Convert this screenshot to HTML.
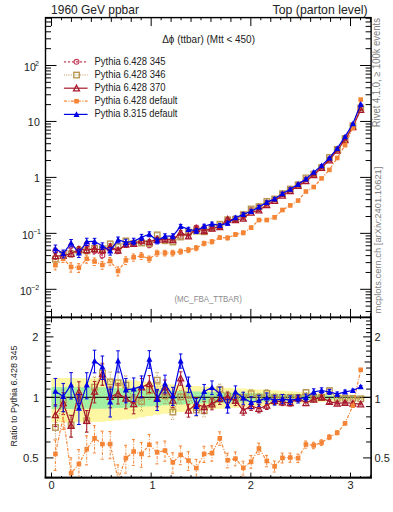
<!DOCTYPE html><html><head><meta charset="utf-8"><style>html,body{margin:0;padding:0;background:#fff;}svg{display:block}text{font-family:"Liberation Sans",sans-serif;fill:#222}</style></head><body>
<svg width="393" height="512" viewBox="0 0 393 512">
<rect width="393" height="512" fill="#fff"/>
<path d="M51.50,377.92 59.33,377.92 L59.33,377.99 67.16,377.99 L67.16,378.06 74.98,378.06 L74.98,378.13 82.81,378.13 L82.81,378.20 90.64,378.20 L90.64,378.27 98.47,378.27 L98.47,378.34 106.30,378.34 L106.30,378.83 114.12,378.83 L114.12,379.33 121.95,379.33 L121.95,379.83 129.78,379.83 L129.78,380.33 137.61,380.33 L137.61,381.16 145.44,381.16 L145.44,382.00 153.26,382.00 L153.26,382.85 161.09,382.85 L161.09,383.71 168.92,383.71 L168.92,384.39 176.75,384.39 L176.75,384.90 184.58,384.90 L184.58,385.40 192.41,385.40 L192.41,385.91 200.23,385.91 L200.23,386.42 208.06,386.42 L208.06,386.94 215.89,386.94 L215.89,387.40 223.72,387.40 L223.72,387.80 231.55,387.80 L231.55,388.21 239.37,388.21 L239.37,388.61 247.20,388.61 L247.20,389.02 255.03,389.02 L255.03,389.44 262.86,389.44 L262.86,389.85 270.69,389.85 L270.69,390.26 278.51,390.26 L278.51,390.68 286.34,390.68 L286.34,391.17 294.17,391.17 L294.17,391.66 302.00,391.66 L302.00,392.15 309.83,392.15 L309.83,392.64 317.65,392.64 L317.65,393.14 325.48,393.14 L325.48,393.64 333.31,393.64 L333.31,394.14 341.14,394.14 L341.14,394.65 348.97,394.65 L348.97,395.16 356.79,395.16 L356.79,395.67 364.62,395.67 L364.62,399.16 356.79,399.16 L356.79,399.70 348.97,399.70 L348.97,400.24 341.14,400.24 L341.14,400.78 333.31,400.78 L333.31,401.33 325.48,401.33 L325.48,401.88 317.65,401.88 L317.65,402.43 309.83,402.43 L309.83,402.99 302.00,402.99 L302.00,403.55 294.17,403.55 L294.17,404.11 286.34,404.11 L286.34,404.68 278.51,404.68 L278.51,405.17 270.69,405.17 L270.69,405.67 262.86,405.67 L262.86,406.16 255.03,406.16 L255.03,406.67 247.20,406.67 L247.20,407.17 239.37,407.17 L239.37,407.68 231.55,407.68 L231.55,408.19 223.72,408.19 L223.72,408.70 215.89,408.70 L215.89,409.29 208.06,409.29 L208.06,409.96 200.23,409.96 L200.23,410.63 192.41,410.63 L192.41,411.31 184.58,411.31 L184.58,412.00 176.75,412.00 L176.75,412.69 168.92,412.69 L168.92,413.64 161.09,413.64 L161.09,414.87 153.26,414.87 L153.26,416.11 145.44,416.11 L145.44,417.37 137.61,417.37 L137.61,418.64 129.78,418.64 L129.78,419.43 121.95,419.43 L121.95,420.22 114.12,420.22 L114.12,421.01 106.30,421.01 L106.30,421.82 98.47,421.82 L98.47,421.93 90.64,421.93 L90.64,422.05 82.81,422.05 L82.81,422.16 74.98,422.16 L74.98,422.28 67.16,422.28 L67.16,422.40 59.33,422.40 L59.33,422.51 51.50,422.51 Z" fill="#fdf7a3"/>
<path d="M51.50,387.12 59.33,387.12 L59.33,387.16 67.16,387.16 L67.16,387.20 74.98,387.20 L74.98,387.23 82.81,387.23 L82.81,387.27 90.64,387.27 L90.64,387.31 98.47,387.31 L98.47,387.35 106.30,387.35 L106.30,387.62 114.12,387.62 L114.12,387.90 121.95,387.90 L121.95,388.17 129.78,388.17 L129.78,388.45 137.61,388.45 L137.61,388.90 145.44,388.90 L145.44,389.36 153.26,389.36 L153.26,389.82 161.09,389.82 L161.09,390.29 168.92,390.29 L168.92,390.65 176.75,390.65 L176.75,390.92 184.58,390.92 L184.58,391.20 192.41,391.20 L192.41,391.47 200.23,391.47 L200.23,391.74 208.06,391.74 L208.06,392.01 215.89,392.01 L215.89,392.26 223.72,392.26 L223.72,392.47 231.55,392.47 L231.55,392.68 239.37,392.68 L239.37,392.90 247.20,392.90 L247.20,393.11 255.03,393.11 L255.03,393.33 262.86,393.33 L262.86,393.54 270.69,393.54 L270.69,393.76 278.51,393.76 L278.51,393.98 286.34,393.98 L286.34,394.23 294.17,394.23 L294.17,394.48 302.00,394.48 L302.00,394.74 309.83,394.74 L309.83,394.99 317.65,394.99 L317.65,395.24 325.48,395.24 L325.48,395.50 333.31,395.50 L333.31,395.76 341.14,395.76 L341.14,396.01 348.97,396.01 L348.97,396.27 356.79,396.27 L356.79,396.53 364.62,396.53 L364.62,398.28 356.79,398.28 L356.79,398.54 348.97,398.54 L348.97,398.81 341.14,398.81 L341.14,399.07 333.31,399.07 L333.31,399.34 325.48,399.34 L325.48,399.61 317.65,399.61 L317.65,399.88 309.83,399.88 L309.83,400.15 302.00,400.15 L302.00,400.42 294.17,400.42 L294.17,400.69 286.34,400.69 L286.34,400.96 278.51,400.96 L278.51,401.20 270.69,401.20 L270.69,401.44 262.86,401.44 L262.86,401.67 255.03,401.67 L255.03,401.91 247.20,401.91 L247.20,402.15 239.37,402.15 L239.37,402.39 231.55,402.39 L231.55,402.63 223.72,402.63 L223.72,402.87 215.89,402.87 L215.89,403.14 208.06,403.14 L208.06,403.45 200.23,403.45 L200.23,403.77 192.41,403.77 L192.41,404.08 184.58,404.08 L184.58,404.39 176.75,404.39 L176.75,404.71 168.92,404.71 L168.92,405.14 161.09,405.14 L161.09,405.70 153.26,405.70 L153.26,406.25 145.44,406.25 L145.44,406.81 137.61,406.81 L137.61,407.38 129.78,407.38 L129.78,407.72 121.95,407.72 L121.95,408.06 114.12,408.06 L114.12,408.41 106.30,408.41 L106.30,408.76 98.47,408.76 L98.47,408.81 90.64,408.81 L90.64,408.86 82.81,408.86 L82.81,408.91 74.98,408.91 L74.98,408.96 67.16,408.96 L67.16,409.01 59.33,409.01 L59.33,409.06 51.50,409.06 Z" fill="#a3f0a3"/>
<defs><clipPath id="cm"><rect x="45.5" y="17.6" width="325.6" height="299.79999999999995"/></clipPath><clipPath id="cr"><rect x="45.5" y="317.4" width="325.6" height="160.20000000000005"/></clipPath></defs>
<line x1="45.5" y1="397.4" x2="371.1" y2="397.4" stroke="#222" stroke-width="1.4"/>
<g clip-path="url(#cm)">
<path d="M55.41,250.73 L63.24,254.01 L71.07,246.11 L78.90,250.42 L86.73,244.31 L94.55,251.02 L102.38,255.45 L110.21,248.20 L118.04,250.81 L125.87,244.31 L133.69,242.74 L141.52,241.84 L149.35,245.26 L157.18,239.62 L165.01,241.10 L172.83,237.90 L180.66,237.11 L188.49,232.77 L196.32,227.59 L204.15,227.99 L211.98,226.59 L219.80,226.46 L227.63,220.05 L235.46,219.18 L243.29,214.56 L251.12,209.96 L258.94,206.60 L266.77,202.51 L274.60,198.93 L282.43,193.63 L290.26,188.98 L298.08,184.67 L305.91,179.25 L313.74,174.11 L321.57,167.61 L329.40,159.29 L337.22,149.09 L345.05,138.24 L352.88,125.43 L360.71,107.55" fill="none" stroke="#c4405c" stroke-width="1.2" stroke-dasharray="2.2 1.8"/>
<path d="M55.41,247.86 L55.41,253.97 M53.61,247.86 L57.21,247.86 M53.61,253.97 L57.21,253.97 M63.24,251.15 L63.24,257.24 M61.44,251.15 L65.04,251.15 M61.44,257.24 L65.04,257.24 M71.07,243.27 L71.07,249.33 M69.27,243.27 L72.87,243.27 M69.27,249.33 L72.87,249.33 M78.90,247.59 L78.90,253.62 M77.10,247.59 L80.70,247.59 M77.10,253.62 L80.70,253.62 M86.73,241.49 L86.73,247.50 M84.93,241.49 L88.53,241.49 M84.93,247.50 L88.53,247.50 M94.55,248.21 L94.55,254.19 M92.75,248.21 L96.35,248.21 M92.75,254.19 L96.35,254.19 M102.38,252.65 L102.38,258.61 M100.58,252.65 L104.18,252.65 M100.58,258.61 L104.18,258.61 M110.21,245.48 L110.21,251.26 M108.41,245.48 L112.01,245.48 M108.41,251.26 L112.01,251.26 M118.04,248.17 L118.04,253.78 M116.24,248.17 L119.84,248.17 M116.24,253.78 L119.84,253.78 M125.87,241.74 L125.87,247.18 M124.07,241.74 L127.67,241.74 M124.07,247.18 L127.67,247.18 M133.69,240.24 L133.69,245.51 M131.89,240.24 L135.49,240.24 M131.89,245.51 L135.49,245.51 M141.52,239.48 L141.52,244.46 M139.72,239.48 L143.32,239.48 M139.72,244.46 L143.32,244.46 M149.35,243.02 L149.35,247.72 M147.55,243.02 L151.15,243.02 M147.55,247.72 L151.15,247.72 M157.18,237.51 L157.18,241.93 M155.38,237.51 L158.98,237.51 M155.38,241.93 L158.98,241.93 M165.01,239.12 L165.01,243.25 M163.21,239.12 L166.81,239.12 M163.21,243.25 L166.81,243.25 M172.83,236.02 L172.83,239.93 M171.03,236.02 L174.63,236.02 M171.03,239.93 L174.63,239.93 M180.66,235.30 L180.66,239.05 M178.86,235.30 L182.46,235.30 M178.86,239.05 L182.46,239.05 M188.49,231.05 L188.49,234.63 M186.69,231.05 L190.29,231.05 M186.69,234.63 L190.29,234.63 M196.32,225.94 L196.32,229.36 M194.52,225.94 L198.12,225.94 M194.52,229.36 L198.12,229.36 M204.15,226.41 L204.15,229.67 M202.35,226.41 L205.95,226.41 M202.35,229.67 L205.95,229.67 M211.98,225.09 L211.98,228.19 M210.18,225.09 L213.78,225.09 M210.18,228.19 L213.78,228.19 M219.80,225.03 L219.80,227.99 M218.00,225.03 L221.60,225.03 M218.00,227.99 L221.60,227.99 M227.63,218.68 L227.63,221.51 M225.83,218.68 L229.43,218.68 M225.83,221.51 L229.43,221.51 M235.46,217.87 L235.46,220.57 M233.66,217.87 L237.26,217.87 M233.66,220.57 L237.26,220.57 M243.29,213.31 L243.29,215.88 M241.49,213.31 L245.09,213.31 M241.49,215.88 L245.09,215.88 M251.12,208.77 L251.12,211.22 M249.32,208.77 L252.92,208.77 M249.32,211.22 L252.92,211.22 M258.94,205.47 L258.94,207.79 M257.14,205.47 L260.74,205.47 M257.14,207.79 L260.74,207.79 M266.77,201.43 L266.77,203.63 M264.97,201.43 L268.57,201.43 M264.97,203.63 L268.57,203.63 M274.60,197.92 L274.60,199.99 M272.80,197.92 L276.40,197.92 M272.80,199.99 L276.40,199.99 M282.43,192.68 L282.43,194.62 M280.63,192.68 L284.23,192.68 M280.63,194.62 L284.23,194.62 M290.26,188.10 L290.26,189.89 M288.46,188.10 L292.06,188.10 M288.46,189.89 L292.06,189.89 M298.08,183.86 L298.08,185.51 M296.28,183.86 L299.88,183.86 M296.28,185.51 L299.88,185.51 M305.91,178.51 L305.91,180.01 M304.11,178.51 L307.71,178.51 M304.11,180.01 L307.71,180.01 M313.74,173.44 L313.74,174.80 M311.94,173.44 L315.54,173.44 M311.94,174.80 L315.54,174.80 M321.57,167.01 L321.57,168.22 M319.77,167.01 L323.37,167.01 M319.77,168.22 L323.37,168.22 M329.40,158.76 L329.40,159.83 M327.60,158.76 L331.20,158.76 M327.60,159.83 L331.20,159.83 M337.22,148.63 L337.22,149.55 M335.42,148.63 L339.02,148.63 M335.42,149.55 L339.02,149.55 M345.05,137.85 L345.05,138.63 M343.25,137.85 L346.85,137.85 M343.25,138.63 L346.85,138.63 M352.88,125.11 L352.88,125.75 M351.08,125.11 L354.68,125.11 M351.08,125.75 L354.68,125.75 M360.71,107.31 L360.71,107.80 M358.91,107.31 L362.51,107.31 M358.91,107.80 L362.51,107.80" fill="none" stroke="#c4405c" stroke-width="1" stroke-dasharray="2.2 1.8"/>
<circle cx="55.41" cy="250.73" r="2.45" fill="none" stroke="#c4405c" stroke-width="1.15"/>
<circle cx="63.24" cy="254.01" r="2.45" fill="none" stroke="#c4405c" stroke-width="1.15"/>
<circle cx="71.07" cy="246.11" r="2.45" fill="none" stroke="#c4405c" stroke-width="1.15"/>
<circle cx="78.90" cy="250.42" r="2.45" fill="none" stroke="#c4405c" stroke-width="1.15"/>
<circle cx="86.73" cy="244.31" r="2.45" fill="none" stroke="#c4405c" stroke-width="1.15"/>
<circle cx="94.55" cy="251.02" r="2.45" fill="none" stroke="#c4405c" stroke-width="1.15"/>
<circle cx="102.38" cy="255.45" r="2.45" fill="none" stroke="#c4405c" stroke-width="1.15"/>
<circle cx="110.21" cy="248.20" r="2.45" fill="none" stroke="#c4405c" stroke-width="1.15"/>
<circle cx="118.04" cy="250.81" r="2.45" fill="none" stroke="#c4405c" stroke-width="1.15"/>
<circle cx="125.87" cy="244.31" r="2.45" fill="none" stroke="#c4405c" stroke-width="1.15"/>
<circle cx="133.69" cy="242.74" r="2.45" fill="none" stroke="#c4405c" stroke-width="1.15"/>
<circle cx="141.52" cy="241.84" r="2.45" fill="none" stroke="#c4405c" stroke-width="1.15"/>
<circle cx="149.35" cy="245.26" r="2.45" fill="none" stroke="#c4405c" stroke-width="1.15"/>
<circle cx="157.18" cy="239.62" r="2.45" fill="none" stroke="#c4405c" stroke-width="1.15"/>
<circle cx="165.01" cy="241.10" r="2.45" fill="none" stroke="#c4405c" stroke-width="1.15"/>
<circle cx="172.83" cy="237.90" r="2.45" fill="none" stroke="#c4405c" stroke-width="1.15"/>
<circle cx="180.66" cy="237.11" r="2.45" fill="none" stroke="#c4405c" stroke-width="1.15"/>
<circle cx="188.49" cy="232.77" r="2.45" fill="none" stroke="#c4405c" stroke-width="1.15"/>
<circle cx="196.32" cy="227.59" r="2.45" fill="none" stroke="#c4405c" stroke-width="1.15"/>
<circle cx="204.15" cy="227.99" r="2.45" fill="none" stroke="#c4405c" stroke-width="1.15"/>
<circle cx="211.98" cy="226.59" r="2.45" fill="none" stroke="#c4405c" stroke-width="1.15"/>
<circle cx="219.80" cy="226.46" r="2.45" fill="none" stroke="#c4405c" stroke-width="1.15"/>
<circle cx="227.63" cy="220.05" r="2.45" fill="none" stroke="#c4405c" stroke-width="1.15"/>
<circle cx="235.46" cy="219.18" r="2.45" fill="none" stroke="#c4405c" stroke-width="1.15"/>
<circle cx="243.29" cy="214.56" r="2.45" fill="none" stroke="#c4405c" stroke-width="1.15"/>
<circle cx="251.12" cy="209.96" r="2.45" fill="none" stroke="#c4405c" stroke-width="1.15"/>
<circle cx="258.94" cy="206.60" r="2.45" fill="none" stroke="#c4405c" stroke-width="1.15"/>
<circle cx="266.77" cy="202.51" r="2.45" fill="none" stroke="#c4405c" stroke-width="1.15"/>
<circle cx="274.60" cy="198.93" r="2.45" fill="none" stroke="#c4405c" stroke-width="1.15"/>
<circle cx="282.43" cy="193.63" r="2.45" fill="none" stroke="#c4405c" stroke-width="1.15"/>
<circle cx="290.26" cy="188.98" r="2.45" fill="none" stroke="#c4405c" stroke-width="1.15"/>
<circle cx="298.08" cy="184.67" r="2.45" fill="none" stroke="#c4405c" stroke-width="1.15"/>
<circle cx="305.91" cy="179.25" r="2.45" fill="none" stroke="#c4405c" stroke-width="1.15"/>
<circle cx="313.74" cy="174.11" r="2.45" fill="none" stroke="#c4405c" stroke-width="1.15"/>
<circle cx="321.57" cy="167.61" r="2.45" fill="none" stroke="#c4405c" stroke-width="1.15"/>
<circle cx="329.40" cy="159.29" r="2.45" fill="none" stroke="#c4405c" stroke-width="1.15"/>
<circle cx="337.22" cy="149.09" r="2.45" fill="none" stroke="#c4405c" stroke-width="1.15"/>
<circle cx="345.05" cy="138.24" r="2.45" fill="none" stroke="#c4405c" stroke-width="1.15"/>
<circle cx="352.88" cy="125.43" r="2.45" fill="none" stroke="#c4405c" stroke-width="1.15"/>
<circle cx="360.71" cy="107.55" r="2.45" fill="none" stroke="#c4405c" stroke-width="1.15"/>
</g>
<g clip-path="url(#cm)">
<path d="M55.41,259.08 L63.24,254.75 L71.07,253.76 L78.90,250.42 L86.73,250.79 L94.55,248.16 L102.38,248.66 L110.21,243.85 L118.04,246.71 L125.87,240.87 L133.69,243.48 L141.52,242.96 L149.35,243.37 L157.18,234.81 L165.01,240.69 L172.83,241.96 L180.66,236.94 L188.49,232.10 L196.32,231.08 L204.15,231.71 L211.98,227.99 L219.80,224.19 L227.63,219.71 L235.46,219.18 L243.29,214.56 L251.12,208.92 L258.94,206.60 L266.77,201.37 L274.60,198.93 L282.43,193.63 L290.26,188.98 L298.08,184.67 L305.91,177.86 L313.74,174.11 L321.57,167.61 L329.40,157.38 L337.22,149.33 L345.05,138.48 L352.88,125.67 L360.71,107.92" fill="none" stroke="#b89650" stroke-width="1.2" stroke-dasharray="1 1.3"/>
<path d="M55.41,256.22 L55.41,262.33 M53.61,256.22 L57.21,256.22 M53.61,262.33 L57.21,262.33 M63.24,251.89 L63.24,257.98 M61.44,251.89 L65.04,251.89 M61.44,257.98 L65.04,257.98 M71.07,250.92 L71.07,256.97 M69.27,250.92 L72.87,250.92 M69.27,256.97 L72.87,256.97 M78.90,247.59 L78.90,253.62 M77.10,247.59 L80.70,247.59 M77.10,253.62 L80.70,253.62 M86.73,247.97 L86.73,253.98 M84.93,247.97 L88.53,247.97 M84.93,253.98 L88.53,253.98 M94.55,245.35 L94.55,251.33 M92.75,245.35 L96.35,245.35 M92.75,251.33 L96.35,251.33 M102.38,245.87 L102.38,251.82 M100.58,245.87 L104.18,245.87 M100.58,251.82 L104.18,251.82 M110.21,241.13 L110.21,246.91 M108.41,241.13 L112.01,241.13 M108.41,246.91 L112.01,246.91 M118.04,244.07 L118.04,249.68 M116.24,244.07 L119.84,244.07 M116.24,249.68 L119.84,249.68 M125.87,238.30 L125.87,243.75 M124.07,238.30 L127.67,238.30 M124.07,243.75 L127.67,243.75 M133.69,240.98 L133.69,246.25 M131.89,240.98 L135.49,240.98 M131.89,246.25 L135.49,246.25 M141.52,240.59 L141.52,245.58 M139.72,240.59 L143.32,240.59 M139.72,245.58 L143.32,245.58 M149.35,241.13 L149.35,245.83 M147.55,241.13 L151.15,241.13 M147.55,245.83 L151.15,245.83 M157.18,232.70 L157.18,237.12 M155.38,232.70 L158.98,232.70 M155.38,237.12 L158.98,237.12 M165.01,238.71 L165.01,242.84 M163.21,238.71 L166.81,238.71 M163.21,242.84 L166.81,242.84 M172.83,240.08 L172.83,244.00 M171.03,240.08 L174.63,240.08 M171.03,244.00 L174.63,244.00 M180.66,235.14 L180.66,238.88 M178.86,235.14 L182.46,235.14 M178.86,238.88 L182.46,238.88 M188.49,230.38 L188.49,233.96 M186.69,230.38 L190.29,230.38 M186.69,233.96 L190.29,233.96 M196.32,229.43 L196.32,232.86 M194.52,229.43 L198.12,229.43 M194.52,232.86 L198.12,232.86 M204.15,230.13 L204.15,233.39 M202.35,230.13 L205.95,230.13 M202.35,233.39 L205.95,233.39 M211.98,226.49 L211.98,229.59 M210.18,226.49 L213.78,226.49 M210.18,229.59 L213.78,229.59 M219.80,222.76 L219.80,225.71 M218.00,222.76 L221.60,222.76 M218.00,225.71 L221.60,225.71 M227.63,218.34 L227.63,221.17 M225.83,218.34 L229.43,218.34 M225.83,221.17 L229.43,221.17 M235.46,217.87 L235.46,220.57 M233.66,217.87 L237.26,217.87 M233.66,220.57 L237.26,220.57 M243.29,213.31 L243.29,215.88 M241.49,213.31 L245.09,213.31 M241.49,215.88 L245.09,215.88 M251.12,207.72 L251.12,210.17 M249.32,207.72 L252.92,207.72 M249.32,210.17 L252.92,210.17 M258.94,205.47 L258.94,207.79 M257.14,205.47 L260.74,205.47 M257.14,207.79 L260.74,207.79 M266.77,200.29 L266.77,202.49 M264.97,200.29 L268.57,200.29 M264.97,202.49 L268.57,202.49 M274.60,197.92 L274.60,199.99 M272.80,197.92 L276.40,197.92 M272.80,199.99 L276.40,199.99 M282.43,192.68 L282.43,194.62 M280.63,192.68 L284.23,192.68 M280.63,194.62 L284.23,194.62 M290.26,188.10 L290.26,189.89 M288.46,188.10 L292.06,188.10 M288.46,189.89 L292.06,189.89 M298.08,183.86 L298.08,185.51 M296.28,183.86 L299.88,183.86 M296.28,185.51 L299.88,185.51 M305.91,177.11 L305.91,178.62 M304.11,177.11 L307.71,177.11 M304.11,178.62 L307.71,178.62 M313.74,173.44 L313.74,174.80 M311.94,173.44 L315.54,173.44 M311.94,174.80 L315.54,174.80 M321.57,167.01 L321.57,168.22 M319.77,167.01 L323.37,167.01 M319.77,168.22 L323.37,168.22 M329.40,156.85 L329.40,157.92 M327.60,156.85 L331.20,156.85 M327.60,157.92 L331.20,157.92 M337.22,148.87 L337.22,149.80 M335.42,148.87 L339.02,148.87 M335.42,149.80 L339.02,149.80 M345.05,138.10 L345.05,138.87 M343.25,138.10 L346.85,138.10 M343.25,138.87 L346.85,138.87 M352.88,125.36 L352.88,125.99 M351.08,125.36 L354.68,125.36 M351.08,125.99 L354.68,125.99 M360.71,107.68 L360.71,108.16 M358.91,107.68 L362.51,107.68 M358.91,108.16 L362.51,108.16" fill="none" stroke="#b89650" stroke-width="1" stroke-dasharray="1 1.3"/>
<rect x="52.71" y="256.38" width="5.5" height="5.5" fill="none" stroke="#b89650" stroke-width="1.35"/>
<rect x="60.54" y="252.05" width="5.5" height="5.5" fill="none" stroke="#b89650" stroke-width="1.35"/>
<rect x="68.37" y="251.06" width="5.5" height="5.5" fill="none" stroke="#b89650" stroke-width="1.35"/>
<rect x="76.20" y="247.72" width="5.5" height="5.5" fill="none" stroke="#b89650" stroke-width="1.35"/>
<rect x="84.03" y="248.09" width="5.5" height="5.5" fill="none" stroke="#b89650" stroke-width="1.35"/>
<rect x="91.85" y="245.46" width="5.5" height="5.5" fill="none" stroke="#b89650" stroke-width="1.35"/>
<rect x="99.68" y="245.96" width="5.5" height="5.5" fill="none" stroke="#b89650" stroke-width="1.35"/>
<rect x="107.51" y="241.15" width="5.5" height="5.5" fill="none" stroke="#b89650" stroke-width="1.35"/>
<rect x="115.34" y="244.01" width="5.5" height="5.5" fill="none" stroke="#b89650" stroke-width="1.35"/>
<rect x="123.17" y="238.17" width="5.5" height="5.5" fill="none" stroke="#b89650" stroke-width="1.35"/>
<rect x="130.99" y="240.78" width="5.5" height="5.5" fill="none" stroke="#b89650" stroke-width="1.35"/>
<rect x="138.82" y="240.26" width="5.5" height="5.5" fill="none" stroke="#b89650" stroke-width="1.35"/>
<rect x="146.65" y="240.67" width="5.5" height="5.5" fill="none" stroke="#b89650" stroke-width="1.35"/>
<rect x="154.48" y="232.11" width="5.5" height="5.5" fill="none" stroke="#b89650" stroke-width="1.35"/>
<rect x="162.31" y="237.99" width="5.5" height="5.5" fill="none" stroke="#b89650" stroke-width="1.35"/>
<rect x="170.13" y="239.26" width="5.5" height="5.5" fill="none" stroke="#b89650" stroke-width="1.35"/>
<rect x="177.96" y="234.24" width="5.5" height="5.5" fill="none" stroke="#b89650" stroke-width="1.35"/>
<rect x="185.79" y="229.40" width="5.5" height="5.5" fill="none" stroke="#b89650" stroke-width="1.35"/>
<rect x="193.62" y="228.38" width="5.5" height="5.5" fill="none" stroke="#b89650" stroke-width="1.35"/>
<rect x="201.45" y="229.01" width="5.5" height="5.5" fill="none" stroke="#b89650" stroke-width="1.35"/>
<rect x="209.28" y="225.29" width="5.5" height="5.5" fill="none" stroke="#b89650" stroke-width="1.35"/>
<rect x="217.10" y="221.49" width="5.5" height="5.5" fill="none" stroke="#b89650" stroke-width="1.35"/>
<rect x="224.93" y="217.01" width="5.5" height="5.5" fill="none" stroke="#b89650" stroke-width="1.35"/>
<rect x="232.76" y="216.48" width="5.5" height="5.5" fill="none" stroke="#b89650" stroke-width="1.35"/>
<rect x="240.59" y="211.86" width="5.5" height="5.5" fill="none" stroke="#b89650" stroke-width="1.35"/>
<rect x="248.42" y="206.22" width="5.5" height="5.5" fill="none" stroke="#b89650" stroke-width="1.35"/>
<rect x="256.24" y="203.90" width="5.5" height="5.5" fill="none" stroke="#b89650" stroke-width="1.35"/>
<rect x="264.07" y="198.67" width="5.5" height="5.5" fill="none" stroke="#b89650" stroke-width="1.35"/>
<rect x="271.90" y="196.23" width="5.5" height="5.5" fill="none" stroke="#b89650" stroke-width="1.35"/>
<rect x="279.73" y="190.93" width="5.5" height="5.5" fill="none" stroke="#b89650" stroke-width="1.35"/>
<rect x="287.56" y="186.28" width="5.5" height="5.5" fill="none" stroke="#b89650" stroke-width="1.35"/>
<rect x="295.38" y="181.97" width="5.5" height="5.5" fill="none" stroke="#b89650" stroke-width="1.35"/>
<rect x="303.21" y="175.16" width="5.5" height="5.5" fill="none" stroke="#b89650" stroke-width="1.35"/>
<rect x="311.04" y="171.41" width="5.5" height="5.5" fill="none" stroke="#b89650" stroke-width="1.35"/>
<rect x="318.87" y="164.91" width="5.5" height="5.5" fill="none" stroke="#b89650" stroke-width="1.35"/>
<rect x="326.70" y="154.68" width="5.5" height="5.5" fill="none" stroke="#b89650" stroke-width="1.35"/>
<rect x="334.52" y="146.63" width="5.5" height="5.5" fill="none" stroke="#b89650" stroke-width="1.35"/>
<rect x="342.35" y="135.78" width="5.5" height="5.5" fill="none" stroke="#b89650" stroke-width="1.35"/>
<rect x="350.18" y="122.97" width="5.5" height="5.5" fill="none" stroke="#b89650" stroke-width="1.35"/>
<rect x="358.01" y="105.22" width="5.5" height="5.5" fill="none" stroke="#b89650" stroke-width="1.35"/>
</g>
<g clip-path="url(#cr)">
<path d="M55.41,427.42 L63.24,400.06 L71.07,424.87 L78.90,397.40 L86.73,420.67 L94.55,387.12 L102.38,373.03 L110.21,381.78 L118.04,382.66 L125.87,385.05 L133.69,400.06 L141.52,401.42 L149.35,390.60 L157.18,380.11 L165.01,395.93 L172.83,412.00 L180.66,396.79 L188.49,394.99 L196.32,409.96 L204.15,410.77 L211.98,402.43 L219.80,389.24 L227.63,396.19 L235.46,397.40 L243.29,397.40 L251.12,393.64 L258.94,397.40 L266.77,393.31 L274.60,397.40 L282.43,397.40 L290.26,397.40 L298.08,397.40 L305.91,392.40 L313.74,397.40 L321.57,397.40 L329.40,390.52 L337.22,398.28 L345.05,398.28 L352.88,398.28 L360.71,398.72" fill="none" stroke="#b89650" stroke-width="1.2" stroke-dasharray="1 1.3"/>
<path d="M55.41,417.14 L55.41,439.08 M53.61,417.14 L57.21,417.14 M53.61,439.08 L57.21,439.08 M63.24,389.82 L63.24,411.67 M61.44,389.82 L65.04,389.82 M61.44,411.67 L65.04,411.67 M71.07,414.67 L71.07,436.43 M69.27,414.67 L72.87,414.67 M69.27,436.43 L72.87,436.43 M78.90,387.23 L78.90,408.91 M77.10,387.23 L80.70,387.23 M77.10,408.91 L80.70,408.91 M86.73,410.54 L86.73,432.13 M84.93,410.54 L88.53,410.54 M84.93,432.13 L88.53,432.13 M94.55,377.03 L94.55,398.53 M92.75,377.03 L96.35,377.03 M92.75,398.53 L96.35,398.53 M102.38,362.98 L102.38,384.39 M100.58,362.98 L104.18,362.98 M100.58,384.39 L104.18,384.39 M110.21,372.00 L110.21,392.79 M108.41,372.00 L112.01,372.00 M108.41,392.79 L112.01,392.79 M118.04,373.15 L118.04,393.32 M116.24,373.15 L119.84,373.15 M116.24,393.32 L119.84,393.32 M125.87,375.82 L125.87,395.37 M124.07,375.82 L127.67,375.82 M124.07,395.37 L127.67,395.37 M133.69,391.11 L133.69,410.04 M131.89,391.11 L135.49,391.11 M131.89,410.04 L135.49,410.04 M141.52,392.92 L141.52,410.83 M139.72,392.92 L143.32,392.92 M139.72,410.83 L143.32,410.83 M149.35,382.56 L149.35,399.45 M147.55,382.56 L151.15,382.56 M147.55,399.45 L151.15,399.45 M157.18,372.54 L157.18,388.41 M155.38,372.54 L158.98,372.54 M155.38,388.41 L158.98,388.41 M165.01,388.82 L165.01,403.67 M163.21,388.82 L166.81,388.82 M163.21,403.67 L166.81,403.67 M172.83,405.25 L172.83,419.31 M171.03,405.25 L174.63,405.25 M171.03,419.31 L174.63,419.31 M180.66,390.32 L180.66,403.79 M178.86,390.32 L182.46,390.32 M178.86,403.79 L182.46,403.79 M188.49,388.78 L188.49,401.67 M186.69,388.78 L190.29,388.78 M186.69,401.67 L190.29,401.67 M196.32,404.03 L196.32,416.33 M194.52,404.03 L198.12,404.03 M194.52,416.33 L198.12,416.33 M204.15,405.11 L204.15,416.82 M202.35,405.11 L205.95,405.11 M202.35,416.82 L205.95,416.82 M211.98,397.04 L211.98,408.17 M210.18,397.04 L213.78,397.04 M210.18,408.17 L213.78,408.17 M219.80,384.09 L219.80,394.71 M218.00,384.09 L221.60,384.09 M218.00,394.71 L221.60,394.71 M227.63,391.26 L227.63,401.41 M225.83,391.26 L229.43,391.26 M225.83,401.41 L229.43,401.41 M235.46,392.68 L235.46,402.39 M233.66,392.68 L237.26,392.68 M233.66,402.39 L237.26,402.39 M243.29,392.90 L243.29,402.15 M241.49,392.90 L245.09,392.90 M241.49,402.15 L245.09,402.15 M251.12,389.35 L251.12,398.15 M249.32,389.35 L252.92,389.35 M249.32,398.15 L252.92,398.15 M258.94,393.33 L258.94,401.67 M257.14,393.33 L260.74,393.33 M257.14,401.67 L260.74,401.67 M266.77,389.45 L266.77,397.34 M264.97,389.45 L268.57,389.45 M264.97,397.34 L268.57,397.34 M274.60,393.76 L274.60,401.20 M272.80,393.76 L276.40,393.76 M272.80,401.20 L276.40,401.20 M282.43,393.98 L282.43,400.96 M280.63,393.98 L284.23,393.98 M280.63,400.96 L284.23,400.96 M290.26,394.23 L290.26,400.69 M288.46,394.23 L292.06,394.23 M288.46,400.69 L292.06,400.69 M298.08,394.48 L298.08,400.42 M296.28,394.48 L299.88,394.48 M296.28,400.42 L299.88,400.42 M305.91,389.73 L305.91,395.14 M304.11,389.73 L307.71,389.73 M304.11,395.14 L307.71,395.14 M313.74,394.99 L313.74,399.88 M311.94,394.99 L315.54,394.99 M311.94,399.88 L315.54,399.88 M321.57,395.24 L321.57,399.61 M319.77,395.24 L323.37,395.24 M319.77,399.61 L323.37,399.61 M329.40,388.62 L329.40,392.46 M327.60,388.62 L331.20,388.62 M327.60,392.46 L331.20,392.46 M337.22,396.63 L337.22,399.95 M335.42,396.63 L339.02,396.63 M335.42,399.95 L339.02,399.95 M345.05,396.89 L345.05,399.69 M343.25,396.89 L346.85,396.89 M343.25,399.69 L346.85,399.69 M352.88,397.15 L352.88,399.42 M351.08,397.15 L354.68,397.15 M351.08,399.42 L354.68,399.42 M360.71,397.85 L360.71,399.60 M358.91,397.85 L362.51,397.85 M358.91,399.60 L362.51,399.60" fill="none" stroke="#b89650" stroke-width="1" stroke-dasharray="1 1.3"/>
<rect x="52.71" y="424.72" width="5.5" height="5.5" fill="none" stroke="#b89650" stroke-width="1.35"/>
<rect x="60.54" y="397.36" width="5.5" height="5.5" fill="none" stroke="#b89650" stroke-width="1.35"/>
<rect x="68.37" y="422.17" width="5.5" height="5.5" fill="none" stroke="#b89650" stroke-width="1.35"/>
<rect x="76.20" y="394.70" width="5.5" height="5.5" fill="none" stroke="#b89650" stroke-width="1.35"/>
<rect x="84.03" y="417.97" width="5.5" height="5.5" fill="none" stroke="#b89650" stroke-width="1.35"/>
<rect x="91.85" y="384.42" width="5.5" height="5.5" fill="none" stroke="#b89650" stroke-width="1.35"/>
<rect x="99.68" y="370.33" width="5.5" height="5.5" fill="none" stroke="#b89650" stroke-width="1.35"/>
<rect x="107.51" y="379.08" width="5.5" height="5.5" fill="none" stroke="#b89650" stroke-width="1.35"/>
<rect x="115.34" y="379.96" width="5.5" height="5.5" fill="none" stroke="#b89650" stroke-width="1.35"/>
<rect x="123.17" y="382.35" width="5.5" height="5.5" fill="none" stroke="#b89650" stroke-width="1.35"/>
<rect x="130.99" y="397.36" width="5.5" height="5.5" fill="none" stroke="#b89650" stroke-width="1.35"/>
<rect x="138.82" y="398.72" width="5.5" height="5.5" fill="none" stroke="#b89650" stroke-width="1.35"/>
<rect x="146.65" y="387.90" width="5.5" height="5.5" fill="none" stroke="#b89650" stroke-width="1.35"/>
<rect x="154.48" y="377.41" width="5.5" height="5.5" fill="none" stroke="#b89650" stroke-width="1.35"/>
<rect x="162.31" y="393.23" width="5.5" height="5.5" fill="none" stroke="#b89650" stroke-width="1.35"/>
<rect x="170.13" y="409.30" width="5.5" height="5.5" fill="none" stroke="#b89650" stroke-width="1.35"/>
<rect x="177.96" y="394.09" width="5.5" height="5.5" fill="none" stroke="#b89650" stroke-width="1.35"/>
<rect x="185.79" y="392.29" width="5.5" height="5.5" fill="none" stroke="#b89650" stroke-width="1.35"/>
<rect x="193.62" y="407.26" width="5.5" height="5.5" fill="none" stroke="#b89650" stroke-width="1.35"/>
<rect x="201.45" y="408.07" width="5.5" height="5.5" fill="none" stroke="#b89650" stroke-width="1.35"/>
<rect x="209.28" y="399.73" width="5.5" height="5.5" fill="none" stroke="#b89650" stroke-width="1.35"/>
<rect x="217.10" y="386.54" width="5.5" height="5.5" fill="none" stroke="#b89650" stroke-width="1.35"/>
<rect x="224.93" y="393.49" width="5.5" height="5.5" fill="none" stroke="#b89650" stroke-width="1.35"/>
<rect x="232.76" y="394.70" width="5.5" height="5.5" fill="none" stroke="#b89650" stroke-width="1.35"/>
<rect x="240.59" y="394.70" width="5.5" height="5.5" fill="none" stroke="#b89650" stroke-width="1.35"/>
<rect x="248.42" y="390.94" width="5.5" height="5.5" fill="none" stroke="#b89650" stroke-width="1.35"/>
<rect x="256.24" y="394.70" width="5.5" height="5.5" fill="none" stroke="#b89650" stroke-width="1.35"/>
<rect x="264.07" y="390.61" width="5.5" height="5.5" fill="none" stroke="#b89650" stroke-width="1.35"/>
<rect x="271.90" y="394.70" width="5.5" height="5.5" fill="none" stroke="#b89650" stroke-width="1.35"/>
<rect x="279.73" y="394.70" width="5.5" height="5.5" fill="none" stroke="#b89650" stroke-width="1.35"/>
<rect x="287.56" y="394.70" width="5.5" height="5.5" fill="none" stroke="#b89650" stroke-width="1.35"/>
<rect x="295.38" y="394.70" width="5.5" height="5.5" fill="none" stroke="#b89650" stroke-width="1.35"/>
<rect x="303.21" y="389.70" width="5.5" height="5.5" fill="none" stroke="#b89650" stroke-width="1.35"/>
<rect x="311.04" y="394.70" width="5.5" height="5.5" fill="none" stroke="#b89650" stroke-width="1.35"/>
<rect x="318.87" y="394.70" width="5.5" height="5.5" fill="none" stroke="#b89650" stroke-width="1.35"/>
<rect x="326.70" y="387.82" width="5.5" height="5.5" fill="none" stroke="#b89650" stroke-width="1.35"/>
<rect x="334.52" y="395.58" width="5.5" height="5.5" fill="none" stroke="#b89650" stroke-width="1.35"/>
<rect x="342.35" y="395.58" width="5.5" height="5.5" fill="none" stroke="#b89650" stroke-width="1.35"/>
<rect x="350.18" y="395.58" width="5.5" height="5.5" fill="none" stroke="#b89650" stroke-width="1.35"/>
<rect x="358.01" y="396.02" width="5.5" height="5.5" fill="none" stroke="#b89650" stroke-width="1.35"/>
</g>
<g clip-path="url(#cm)">
<path d="M55.41,256.00 L63.24,255.60 L71.07,253.70 L78.90,249.30 L86.73,250.00 L94.55,248.90 L102.38,250.00 L110.21,246.60 L118.04,250.50 L125.87,244.40 L133.69,243.60 L141.52,240.50 L149.35,241.80 L157.18,239.30 L165.01,239.30 L172.83,240.00 L180.66,232.40 L188.49,236.20 L196.32,228.60 L204.15,230.80 L211.98,228.40 L219.80,226.90 L227.63,219.30 L235.46,220.00 L243.29,218.50 L251.12,212.40 L258.94,210.20 L266.77,205.00 L274.60,200.60 L282.43,195.40 L290.26,191.00 L298.08,185.70 L305.91,181.00 L313.74,175.00 L321.57,167.70 L329.40,160.20 L337.22,150.50 L345.05,139.80 L352.88,126.90 L360.71,109.70" fill="none" stroke="#a8182c" stroke-width="1.2"/>
<path d="M55.41,253.14 L55.41,259.24 M53.61,253.14 L57.21,253.14 M53.61,259.24 L57.21,259.24 M63.24,252.75 L63.24,258.83 M61.44,252.75 L65.04,252.75 M61.44,258.83 L65.04,258.83 M71.07,250.86 L71.07,256.92 M69.27,250.86 L72.87,250.86 M69.27,256.92 L72.87,256.92 M78.90,246.47 L78.90,252.50 M77.10,246.47 L80.70,246.47 M77.10,252.50 L80.70,252.50 M86.73,247.18 L86.73,253.19 M84.93,247.18 L88.53,247.18 M84.93,253.19 L88.53,253.19 M94.55,246.09 L94.55,252.08 M92.75,246.09 L96.35,246.09 M92.75,252.08 L96.35,252.08 M102.38,247.20 L102.38,253.16 M100.58,247.20 L104.18,247.20 M100.58,253.16 L104.18,253.16 M110.21,243.88 L110.21,249.66 M108.41,243.88 L112.01,243.88 M108.41,249.66 L112.01,249.66 M118.04,247.85 L118.04,253.47 M116.24,247.85 L119.84,247.85 M116.24,253.47 L119.84,253.47 M125.87,241.83 L125.87,247.27 M124.07,241.83 L127.67,241.83 M124.07,247.27 L127.67,247.27 M133.69,241.11 L133.69,246.38 M131.89,241.11 L135.49,241.11 M131.89,246.38 L135.49,246.38 M141.52,238.14 L141.52,243.12 M139.72,238.14 L143.32,238.14 M139.72,243.12 L143.32,243.12 M149.35,239.56 L149.35,244.26 M147.55,239.56 L151.15,239.56 M147.55,244.26 L151.15,244.26 M157.18,237.19 L157.18,241.61 M155.38,237.19 L158.98,237.19 M155.38,241.61 L158.98,241.61 M165.01,237.32 L165.01,241.46 M163.21,237.32 L166.81,237.32 M163.21,241.46 L166.81,241.46 M172.83,238.12 L172.83,242.03 M171.03,238.12 L174.63,238.12 M171.03,242.03 L174.63,242.03 M180.66,230.60 L180.66,234.35 M178.86,230.60 L182.46,230.60 M178.86,234.35 L182.46,234.35 M188.49,234.47 L188.49,238.06 M186.69,234.47 L190.29,234.47 M186.69,238.06 L190.29,238.06 M196.32,226.95 L196.32,230.37 M194.52,226.95 L198.12,226.95 M194.52,230.37 L198.12,230.37 M204.15,229.22 L204.15,232.49 M202.35,229.22 L205.95,229.22 M202.35,232.49 L205.95,232.49 M211.98,226.90 L211.98,230.00 M210.18,226.90 L213.78,226.90 M210.18,230.00 L213.78,230.00 M219.80,225.47 L219.80,228.42 M218.00,225.47 L221.60,225.47 M218.00,228.42 L221.60,228.42 M227.63,217.93 L227.63,220.75 M225.83,217.93 L229.43,217.93 M225.83,220.75 L229.43,220.75 M235.46,218.69 L235.46,221.39 M233.66,218.69 L237.26,218.69 M233.66,221.39 L237.26,221.39 M243.29,217.25 L243.29,219.82 M241.49,217.25 L245.09,217.25 M241.49,219.82 L245.09,219.82 M251.12,211.21 L251.12,213.66 M249.32,211.21 L252.92,211.21 M249.32,213.66 L252.92,213.66 M258.94,209.07 L258.94,211.39 M257.14,209.07 L260.74,209.07 M257.14,211.39 L260.74,211.39 M266.77,203.93 L266.77,206.12 M264.97,203.93 L268.57,203.93 M264.97,206.12 L268.57,206.12 M274.60,199.59 L274.60,201.66 M272.80,199.59 L276.40,199.59 M272.80,201.66 L276.40,201.66 M282.43,194.45 L282.43,196.39 M280.63,194.45 L284.23,194.45 M280.63,196.39 L284.23,196.39 M290.26,190.12 L290.26,191.92 M288.46,190.12 L292.06,190.12 M288.46,191.92 L292.06,191.92 M298.08,184.89 L298.08,186.54 M296.28,184.89 L299.88,184.89 M296.28,186.54 L299.88,186.54 M305.91,180.26 L305.91,181.77 M304.11,180.26 L307.71,180.26 M304.11,181.77 L307.71,181.77 M313.74,174.33 L313.74,175.69 M311.94,174.33 L315.54,174.33 M311.94,175.69 L315.54,175.69 M321.57,167.10 L321.57,168.32 M319.77,167.10 L323.37,167.10 M319.77,168.32 L323.37,168.32 M329.40,159.67 L329.40,160.74 M327.60,159.67 L331.20,159.67 M327.60,160.74 L331.20,160.74 M337.22,150.04 L337.22,150.97 M335.42,150.04 L339.02,150.04 M335.42,150.97 L339.02,150.97 M345.05,139.41 L345.05,140.19 M343.25,139.41 L346.85,139.41 M343.25,140.19 L346.85,140.19 M352.88,126.59 L352.88,127.22 M351.08,126.59 L354.68,126.59 M351.08,127.22 L354.68,127.22 M360.71,109.46 L360.71,109.94 M358.91,109.46 L362.51,109.46 M358.91,109.94 L362.51,109.94" fill="none" stroke="#a8182c" stroke-width="1"/>
<path d="M55.41,253.00 L58.41,258.70 L52.41,258.70 Z" fill="none" stroke="#a8182c" stroke-width="1.25"/>
<path d="M63.24,252.60 L66.24,258.30 L60.24,258.30 Z" fill="none" stroke="#a8182c" stroke-width="1.25"/>
<path d="M71.07,250.70 L74.07,256.40 L68.07,256.40 Z" fill="none" stroke="#a8182c" stroke-width="1.25"/>
<path d="M78.90,246.30 L81.90,252.00 L75.90,252.00 Z" fill="none" stroke="#a8182c" stroke-width="1.25"/>
<path d="M86.73,247.00 L89.73,252.70 L83.73,252.70 Z" fill="none" stroke="#a8182c" stroke-width="1.25"/>
<path d="M94.55,245.90 L97.55,251.60 L91.55,251.60 Z" fill="none" stroke="#a8182c" stroke-width="1.25"/>
<path d="M102.38,247.00 L105.38,252.70 L99.38,252.70 Z" fill="none" stroke="#a8182c" stroke-width="1.25"/>
<path d="M110.21,243.60 L113.21,249.30 L107.21,249.30 Z" fill="none" stroke="#a8182c" stroke-width="1.25"/>
<path d="M118.04,247.50 L121.04,253.20 L115.04,253.20 Z" fill="none" stroke="#a8182c" stroke-width="1.25"/>
<path d="M125.87,241.40 L128.87,247.10 L122.87,247.10 Z" fill="none" stroke="#a8182c" stroke-width="1.25"/>
<path d="M133.69,240.60 L136.69,246.30 L130.69,246.30 Z" fill="none" stroke="#a8182c" stroke-width="1.25"/>
<path d="M141.52,237.50 L144.52,243.20 L138.52,243.20 Z" fill="none" stroke="#a8182c" stroke-width="1.25"/>
<path d="M149.35,238.80 L152.35,244.50 L146.35,244.50 Z" fill="none" stroke="#a8182c" stroke-width="1.25"/>
<path d="M157.18,236.30 L160.18,242.00 L154.18,242.00 Z" fill="none" stroke="#a8182c" stroke-width="1.25"/>
<path d="M165.01,236.30 L168.01,242.00 L162.01,242.00 Z" fill="none" stroke="#a8182c" stroke-width="1.25"/>
<path d="M172.83,237.00 L175.83,242.70 L169.83,242.70 Z" fill="none" stroke="#a8182c" stroke-width="1.25"/>
<path d="M180.66,229.40 L183.66,235.10 L177.66,235.10 Z" fill="none" stroke="#a8182c" stroke-width="1.25"/>
<path d="M188.49,233.20 L191.49,238.90 L185.49,238.90 Z" fill="none" stroke="#a8182c" stroke-width="1.25"/>
<path d="M196.32,225.60 L199.32,231.30 L193.32,231.30 Z" fill="none" stroke="#a8182c" stroke-width="1.25"/>
<path d="M204.15,227.80 L207.15,233.50 L201.15,233.50 Z" fill="none" stroke="#a8182c" stroke-width="1.25"/>
<path d="M211.98,225.40 L214.98,231.10 L208.98,231.10 Z" fill="none" stroke="#a8182c" stroke-width="1.25"/>
<path d="M219.80,223.90 L222.80,229.60 L216.80,229.60 Z" fill="none" stroke="#a8182c" stroke-width="1.25"/>
<path d="M227.63,216.30 L230.63,222.00 L224.63,222.00 Z" fill="none" stroke="#a8182c" stroke-width="1.25"/>
<path d="M235.46,217.00 L238.46,222.70 L232.46,222.70 Z" fill="none" stroke="#a8182c" stroke-width="1.25"/>
<path d="M243.29,215.50 L246.29,221.20 L240.29,221.20 Z" fill="none" stroke="#a8182c" stroke-width="1.25"/>
<path d="M251.12,209.40 L254.12,215.10 L248.12,215.10 Z" fill="none" stroke="#a8182c" stroke-width="1.25"/>
<path d="M258.94,207.20 L261.94,212.90 L255.94,212.90 Z" fill="none" stroke="#a8182c" stroke-width="1.25"/>
<path d="M266.77,202.00 L269.77,207.70 L263.77,207.70 Z" fill="none" stroke="#a8182c" stroke-width="1.25"/>
<path d="M274.60,197.60 L277.60,203.30 L271.60,203.30 Z" fill="none" stroke="#a8182c" stroke-width="1.25"/>
<path d="M282.43,192.40 L285.43,198.10 L279.43,198.10 Z" fill="none" stroke="#a8182c" stroke-width="1.25"/>
<path d="M290.26,188.00 L293.26,193.70 L287.26,193.70 Z" fill="none" stroke="#a8182c" stroke-width="1.25"/>
<path d="M298.08,182.70 L301.08,188.40 L295.08,188.40 Z" fill="none" stroke="#a8182c" stroke-width="1.25"/>
<path d="M305.91,178.00 L308.91,183.70 L302.91,183.70 Z" fill="none" stroke="#a8182c" stroke-width="1.25"/>
<path d="M313.74,172.00 L316.74,177.70 L310.74,177.70 Z" fill="none" stroke="#a8182c" stroke-width="1.25"/>
<path d="M321.57,164.70 L324.57,170.40 L318.57,170.40 Z" fill="none" stroke="#a8182c" stroke-width="1.25"/>
<path d="M329.40,157.20 L332.40,162.90 L326.40,162.90 Z" fill="none" stroke="#a8182c" stroke-width="1.25"/>
<path d="M337.22,147.50 L340.22,153.20 L334.22,153.20 Z" fill="none" stroke="#a8182c" stroke-width="1.25"/>
<path d="M345.05,136.80 L348.05,142.50 L342.05,142.50 Z" fill="none" stroke="#a8182c" stroke-width="1.25"/>
<path d="M352.88,123.90 L355.88,129.60 L349.88,129.60 Z" fill="none" stroke="#a8182c" stroke-width="1.25"/>
<path d="M360.71,106.70 L363.71,112.40 L357.71,112.40 Z" fill="none" stroke="#a8182c" stroke-width="1.25"/>
</g>
<g clip-path="url(#cr)">
<path d="M55.41,414.94 L63.24,402.99 L71.07,425.71 L78.90,391.90 L86.73,420.67 L94.55,391.49 L102.38,374.03 L110.21,396.79 L118.04,393.31 L125.87,398.45 L133.69,403.83 L141.52,387.12 L149.35,383.62 L157.18,398.45 L165.01,387.12 L172.83,400.33 L180.66,378.27 L188.49,410.46 L196.32,403.83 L204.15,406.99 L211.98,404.11 L219.80,398.90 L227.63,397.14 L235.46,400.60 L243.29,410.36 L251.12,405.92 L258.94,408.56 L266.77,405.44 L274.60,400.60 L282.43,402.06 L290.26,402.80 L298.08,398.19 L305.91,402.80 L313.74,399.34 L321.57,397.40 L329.40,401.60 L337.22,403.36 L345.05,402.71 L352.88,403.36 L360.71,404.11" fill="none" stroke="#a8182c" stroke-width="1.2"/>
<path d="M55.41,404.65 L55.41,426.59 M53.61,404.65 L57.21,404.65 M53.61,426.59 L57.21,426.59 M63.24,392.74 L63.24,414.59 M61.44,392.74 L65.04,392.74 M61.44,414.59 L65.04,414.59 M71.07,415.51 L71.07,437.27 M69.27,415.51 L72.87,415.51 M69.27,437.27 L72.87,437.27 M78.90,381.74 L78.90,403.41 M77.10,381.74 L80.70,381.74 M77.10,403.41 L80.70,403.41 M86.73,410.54 L86.73,432.13 M84.93,410.54 L88.53,410.54 M84.93,432.13 L88.53,432.13 M94.55,381.41 L94.55,402.90 M92.75,381.41 L96.35,381.41 M92.75,402.90 L96.35,402.90 M102.38,363.98 L102.38,385.39 M100.58,363.98 L104.18,363.98 M100.58,385.39 L104.18,385.39 M110.21,387.02 L110.21,407.80 M108.41,387.02 L112.01,387.02 M108.41,407.80 L112.01,407.80 M118.04,383.81 L118.04,403.97 M116.24,383.81 L119.84,383.81 M116.24,403.97 L119.84,403.97 M125.87,389.23 L125.87,408.77 M124.07,389.23 L127.67,389.23 M124.07,408.77 L127.67,408.77 M133.69,394.88 L133.69,413.81 M131.89,394.88 L135.49,394.88 M131.89,413.81 L135.49,413.81 M141.52,378.62 L141.52,396.53 M139.72,378.62 L143.32,378.62 M139.72,396.53 L143.32,396.53 M149.35,375.58 L149.35,392.47 M147.55,375.58 L151.15,375.58 M147.55,392.47 L151.15,392.47 M157.18,390.88 L157.18,406.75 M155.38,390.88 L158.98,390.88 M155.38,406.75 L158.98,406.75 M165.01,380.01 L165.01,394.86 M163.21,380.01 L166.81,380.01 M163.21,394.86 L166.81,394.86 M172.83,393.58 L172.83,407.64 M171.03,393.58 L174.63,393.58 M171.03,407.64 L174.63,407.64 M180.66,371.80 L180.66,385.27 M178.86,371.80 L182.46,371.80 M178.86,385.27 L182.46,385.27 M188.49,404.26 L188.49,417.14 M186.69,404.26 L190.29,404.26 M186.69,417.14 L190.29,417.14 M196.32,397.90 L196.32,410.20 M194.52,397.90 L198.12,397.90 M194.52,410.20 L198.12,410.20 M204.15,401.33 L204.15,413.04 M202.35,401.33 L205.95,401.33 M202.35,413.04 L205.95,413.04 M211.98,398.72 L211.98,409.85 M210.18,398.72 L213.78,398.72 M210.18,409.85 L213.78,409.85 M219.80,393.75 L219.80,404.36 M218.00,393.75 L221.60,393.75 M218.00,404.36 L221.60,404.36 M227.63,392.21 L227.63,402.37 M225.83,392.21 L229.43,392.21 M225.83,402.37 L229.43,402.37 M235.46,395.88 L235.46,405.59 M233.66,395.88 L237.26,395.88 M233.66,405.59 L237.26,405.59 M243.29,405.86 L243.29,415.11 M241.49,405.86 L245.09,405.86 M241.49,415.11 L245.09,415.11 M251.12,401.63 L251.12,410.43 M249.32,401.63 L252.92,401.63 M249.32,410.43 L252.92,410.43 M258.94,404.49 L258.94,412.83 M257.14,404.49 L260.74,404.49 M257.14,412.83 L260.74,412.83 M266.77,401.58 L266.77,409.48 M264.97,401.58 L268.57,401.58 M264.97,409.48 L268.57,409.48 M274.60,396.96 L274.60,404.40 M272.80,396.96 L276.40,396.96 M272.80,404.40 L276.40,404.40 M282.43,398.64 L282.43,405.63 M280.63,398.64 L284.23,398.64 M280.63,405.63 L284.23,405.63 M290.26,399.63 L290.26,406.09 M288.46,399.63 L292.06,399.63 M288.46,406.09 L292.06,406.09 M298.08,395.27 L298.08,401.21 M296.28,395.27 L299.88,395.27 M296.28,401.21 L299.88,401.21 M305.91,400.14 L305.91,405.55 M304.11,400.14 L307.71,400.14 M304.11,405.55 L307.71,405.55 M313.74,396.93 L313.74,401.82 M311.94,396.93 L315.54,396.93 M311.94,401.82 L315.54,401.82 M321.57,395.24 L321.57,399.61 M319.77,395.24 L323.37,395.24 M319.77,399.61 L323.37,399.61 M329.40,399.70 L329.40,403.54 M327.60,399.70 L331.20,399.70 M327.60,403.54 L331.20,403.54 M337.22,401.72 L337.22,405.03 M335.42,401.72 L339.02,401.72 M335.42,405.03 L339.02,405.03 M345.05,401.32 L345.05,404.12 M343.25,401.32 L346.85,401.32 M343.25,404.12 L346.85,404.12 M352.88,402.23 L352.88,404.50 M351.08,402.23 L354.68,402.23 M351.08,404.50 L354.68,404.50 M360.71,403.24 L360.71,404.99 M358.91,403.24 L362.51,403.24 M358.91,404.99 L362.51,404.99" fill="none" stroke="#a8182c" stroke-width="1"/>
<path d="M55.41,411.94 L58.41,417.64 L52.41,417.64 Z" fill="none" stroke="#a8182c" stroke-width="1.25"/>
<path d="M63.24,399.99 L66.24,405.69 L60.24,405.69 Z" fill="none" stroke="#a8182c" stroke-width="1.25"/>
<path d="M71.07,422.71 L74.07,428.41 L68.07,428.41 Z" fill="none" stroke="#a8182c" stroke-width="1.25"/>
<path d="M78.90,388.90 L81.90,394.60 L75.90,394.60 Z" fill="none" stroke="#a8182c" stroke-width="1.25"/>
<path d="M86.73,417.67 L89.73,423.37 L83.73,423.37 Z" fill="none" stroke="#a8182c" stroke-width="1.25"/>
<path d="M94.55,388.49 L97.55,394.19 L91.55,394.19 Z" fill="none" stroke="#a8182c" stroke-width="1.25"/>
<path d="M102.38,371.03 L105.38,376.73 L99.38,376.73 Z" fill="none" stroke="#a8182c" stroke-width="1.25"/>
<path d="M110.21,393.79 L113.21,399.49 L107.21,399.49 Z" fill="none" stroke="#a8182c" stroke-width="1.25"/>
<path d="M118.04,390.31 L121.04,396.01 L115.04,396.01 Z" fill="none" stroke="#a8182c" stroke-width="1.25"/>
<path d="M125.87,395.45 L128.87,401.15 L122.87,401.15 Z" fill="none" stroke="#a8182c" stroke-width="1.25"/>
<path d="M133.69,400.83 L136.69,406.53 L130.69,406.53 Z" fill="none" stroke="#a8182c" stroke-width="1.25"/>
<path d="M141.52,384.12 L144.52,389.82 L138.52,389.82 Z" fill="none" stroke="#a8182c" stroke-width="1.25"/>
<path d="M149.35,380.62 L152.35,386.32 L146.35,386.32 Z" fill="none" stroke="#a8182c" stroke-width="1.25"/>
<path d="M157.18,395.45 L160.18,401.15 L154.18,401.15 Z" fill="none" stroke="#a8182c" stroke-width="1.25"/>
<path d="M165.01,384.12 L168.01,389.82 L162.01,389.82 Z" fill="none" stroke="#a8182c" stroke-width="1.25"/>
<path d="M172.83,397.33 L175.83,403.03 L169.83,403.03 Z" fill="none" stroke="#a8182c" stroke-width="1.25"/>
<path d="M180.66,375.27 L183.66,380.97 L177.66,380.97 Z" fill="none" stroke="#a8182c" stroke-width="1.25"/>
<path d="M188.49,407.46 L191.49,413.16 L185.49,413.16 Z" fill="none" stroke="#a8182c" stroke-width="1.25"/>
<path d="M196.32,400.83 L199.32,406.53 L193.32,406.53 Z" fill="none" stroke="#a8182c" stroke-width="1.25"/>
<path d="M204.15,403.99 L207.15,409.69 L201.15,409.69 Z" fill="none" stroke="#a8182c" stroke-width="1.25"/>
<path d="M211.98,401.11 L214.98,406.81 L208.98,406.81 Z" fill="none" stroke="#a8182c" stroke-width="1.25"/>
<path d="M219.80,395.90 L222.80,401.60 L216.80,401.60 Z" fill="none" stroke="#a8182c" stroke-width="1.25"/>
<path d="M227.63,394.14 L230.63,399.84 L224.63,399.84 Z" fill="none" stroke="#a8182c" stroke-width="1.25"/>
<path d="M235.46,397.60 L238.46,403.30 L232.46,403.30 Z" fill="none" stroke="#a8182c" stroke-width="1.25"/>
<path d="M243.29,407.36 L246.29,413.06 L240.29,413.06 Z" fill="none" stroke="#a8182c" stroke-width="1.25"/>
<path d="M251.12,402.92 L254.12,408.62 L248.12,408.62 Z" fill="none" stroke="#a8182c" stroke-width="1.25"/>
<path d="M258.94,405.56 L261.94,411.26 L255.94,411.26 Z" fill="none" stroke="#a8182c" stroke-width="1.25"/>
<path d="M266.77,402.44 L269.77,408.14 L263.77,408.14 Z" fill="none" stroke="#a8182c" stroke-width="1.25"/>
<path d="M274.60,397.60 L277.60,403.30 L271.60,403.30 Z" fill="none" stroke="#a8182c" stroke-width="1.25"/>
<path d="M282.43,399.06 L285.43,404.76 L279.43,404.76 Z" fill="none" stroke="#a8182c" stroke-width="1.25"/>
<path d="M290.26,399.80 L293.26,405.50 L287.26,405.50 Z" fill="none" stroke="#a8182c" stroke-width="1.25"/>
<path d="M298.08,395.19 L301.08,400.89 L295.08,400.89 Z" fill="none" stroke="#a8182c" stroke-width="1.25"/>
<path d="M305.91,399.80 L308.91,405.50 L302.91,405.50 Z" fill="none" stroke="#a8182c" stroke-width="1.25"/>
<path d="M313.74,396.34 L316.74,402.04 L310.74,402.04 Z" fill="none" stroke="#a8182c" stroke-width="1.25"/>
<path d="M321.57,394.40 L324.57,400.10 L318.57,400.10 Z" fill="none" stroke="#a8182c" stroke-width="1.25"/>
<path d="M329.40,398.60 L332.40,404.30 L326.40,404.30 Z" fill="none" stroke="#a8182c" stroke-width="1.25"/>
<path d="M337.22,400.36 L340.22,406.06 L334.22,406.06 Z" fill="none" stroke="#a8182c" stroke-width="1.25"/>
<path d="M345.05,399.71 L348.05,405.41 L342.05,405.41 Z" fill="none" stroke="#a8182c" stroke-width="1.25"/>
<path d="M352.88,400.36 L355.88,406.06 L349.88,406.06 Z" fill="none" stroke="#a8182c" stroke-width="1.25"/>
<path d="M360.71,401.11 L363.71,406.81 L357.71,406.81 Z" fill="none" stroke="#a8182c" stroke-width="1.25"/>
</g>
<g clip-path="url(#cm)">
<path d="M55.41,265.20 L63.24,258.80 L71.07,267.00 L78.90,267.70 L86.73,258.80 L94.55,261.50 L102.38,265.00 L110.21,261.10 L118.04,271.00 L125.87,260.40 L133.69,257.30 L141.52,255.80 L149.35,258.90 L157.18,253.00 L165.01,253.00 L172.83,253.00 L180.66,251.50 L188.49,250.00 L196.32,248.00 L204.15,243.40 L211.98,241.70 L219.80,237.60 L227.63,237.90 L235.46,234.50 L243.29,232.80 L251.12,227.70 L258.94,220.00 L266.77,220.00 L274.60,217.30 L282.43,210.00 L290.26,205.40 L298.08,200.60 L305.91,191.50 L313.74,187.00 L321.57,178.40 L329.40,169.90 L337.22,158.00 L345.05,145.20 L352.88,128.00 L360.71,99.60" fill="none" stroke="#f58536" stroke-width="1.2" stroke-dasharray="3 1.5 1 1.5"/>
<path d="M55.41,261.33 L55.41,269.81 M53.61,261.33 L57.21,261.33 M53.61,269.81 L57.21,269.81 M63.24,255.64 L63.24,262.43 M61.44,255.64 L65.04,255.64 M61.44,262.43 L65.04,262.43 M71.07,262.75 L71.07,272.16 M69.27,262.75 L72.87,262.75 M69.27,272.16 L72.87,272.16 M78.90,263.66 L78.90,272.55 M77.10,263.66 L80.70,263.66 M77.10,272.55 L80.70,272.55 M86.73,255.08 L86.73,263.19 M84.93,255.08 L88.53,255.08 M84.93,263.19 L88.53,263.19 M94.55,258.00 L94.55,265.59 M92.75,258.00 L96.35,258.00 M92.75,265.59 L96.35,265.59 M102.38,261.41 L102.38,269.22 M100.58,261.41 L104.18,261.41 M100.58,269.22 L104.18,269.22 M110.21,257.60 L110.21,265.19 M108.41,257.60 L112.01,257.60 M108.41,265.19 L112.01,265.19 M118.04,266.89 L118.04,275.95 M116.24,266.89 L119.84,266.89 M116.24,275.95 L119.84,275.95 M125.87,256.84 L125.87,264.57 M124.07,256.84 L127.67,256.84 M124.07,264.57 L127.67,264.57 M133.69,253.96 L133.69,261.17 M131.89,253.96 L135.49,253.96 M131.89,261.17 L135.49,261.17 M141.52,252.59 L141.52,259.50 M139.72,252.59 L143.32,252.59 M139.72,259.50 L143.32,259.50 M149.35,256.01 L149.35,262.19 M147.55,256.01 L151.15,256.01 M147.55,262.19 L151.15,262.19 M157.18,250.16 L157.18,256.22 M155.38,250.16 L158.98,250.16 M155.38,256.22 L158.98,256.22 M165.01,250.35 L165.01,255.97 M163.21,250.35 L166.81,250.35 M163.21,255.97 L166.81,255.97 M172.83,250.32 L172.83,256.01 M171.03,250.32 L174.63,250.32 M171.03,256.01 L174.63,256.01 M180.66,249.03 L180.66,254.25 M178.86,249.03 L182.46,249.03 M178.86,254.25 L182.46,254.25 M188.49,247.56 L188.49,252.72 M186.69,247.56 L190.29,247.56 M186.69,252.72 L190.29,252.72 M196.32,245.56 L196.32,250.71 M194.52,245.56 L198.12,245.56 M194.52,250.71 L198.12,250.71 M204.15,241.25 L204.15,245.76 M202.35,241.25 L205.95,241.25 M202.35,245.76 L205.95,245.76 M211.98,239.66 L211.98,243.93 M210.18,239.66 L213.78,239.66 M210.18,243.93 L213.78,243.93 M219.80,235.80 L219.80,239.54 M218.00,235.80 L221.60,235.80 M218.00,239.54 L221.60,239.54 M227.63,235.96 L227.63,240.01 M225.83,235.96 L229.43,235.96 M225.83,240.01 L229.43,240.01 M235.46,232.66 L235.46,236.50 M233.66,232.66 L237.26,232.66 M233.66,236.50 L237.26,236.50 M243.29,230.95 L243.29,234.81 M241.49,230.95 L245.09,230.95 M241.49,234.81 L245.09,234.81 M251.12,225.99 L251.12,229.54 M249.32,225.99 L252.92,225.99 M249.32,229.54 L252.92,229.54 M258.94,218.49 L258.94,221.61 M257.14,218.49 L260.74,218.49 M257.14,221.61 L260.74,221.61 M266.77,218.47 L266.77,221.63 M264.97,218.47 L268.57,218.47 M264.97,221.63 L268.57,221.63 M274.60,215.81 L274.60,218.89 M272.80,215.81 L276.40,215.81 M272.80,218.89 L276.40,218.89 M282.43,208.66 L282.43,211.41 M280.63,208.66 L284.23,208.66 M280.63,211.41 L284.23,211.41 M290.26,204.16 L290.26,206.70 M288.46,204.16 L292.06,204.16 M288.46,206.70 L292.06,206.70 M298.08,199.46 L298.08,201.80 M296.28,199.46 L299.88,199.46 M296.28,201.80 L299.88,201.80 M305.91,190.53 L305.91,192.51 M304.11,190.53 L307.71,190.53 M304.11,192.51 L307.71,192.51 M313.74,186.12 L313.74,187.91 M311.94,186.12 L315.54,186.12 M311.94,187.91 L315.54,187.91 M321.57,177.63 L321.57,179.20 M319.77,177.63 L323.37,177.63 M319.77,179.20 L323.37,179.20 M329.40,169.24 L329.40,170.58 M327.60,169.24 L331.20,169.24 M327.60,170.58 L331.20,170.58 M337.22,157.44 L337.22,158.57 M335.42,157.44 L339.02,157.44 M335.42,158.57 L339.02,158.57 M345.05,144.75 L345.05,145.66 M343.25,144.75 L346.85,144.75 M343.25,145.66 L346.85,145.66 M352.88,127.67 L352.88,128.33 M351.08,127.67 L354.68,127.67 M351.08,128.33 L354.68,128.33 M360.71,99.36 L360.71,99.84 M358.91,99.36 L362.51,99.36 M358.91,99.84 L362.51,99.84" fill="none" stroke="#f58536" stroke-width="1" stroke-dasharray="3 1.5 1 1.5"/>
<rect x="53.11" y="262.90" width="4.6" height="4.6" fill="#f58536"/>
<rect x="60.94" y="256.50" width="4.6" height="4.6" fill="#f58536"/>
<rect x="68.77" y="264.70" width="4.6" height="4.6" fill="#f58536"/>
<rect x="76.60" y="265.40" width="4.6" height="4.6" fill="#f58536"/>
<rect x="84.43" y="256.50" width="4.6" height="4.6" fill="#f58536"/>
<rect x="92.25" y="259.20" width="4.6" height="4.6" fill="#f58536"/>
<rect x="100.08" y="262.70" width="4.6" height="4.6" fill="#f58536"/>
<rect x="107.91" y="258.80" width="4.6" height="4.6" fill="#f58536"/>
<rect x="115.74" y="268.70" width="4.6" height="4.6" fill="#f58536"/>
<rect x="123.57" y="258.10" width="4.6" height="4.6" fill="#f58536"/>
<rect x="131.39" y="255.00" width="4.6" height="4.6" fill="#f58536"/>
<rect x="139.22" y="253.50" width="4.6" height="4.6" fill="#f58536"/>
<rect x="147.05" y="256.60" width="4.6" height="4.6" fill="#f58536"/>
<rect x="154.88" y="250.70" width="4.6" height="4.6" fill="#f58536"/>
<rect x="162.71" y="250.70" width="4.6" height="4.6" fill="#f58536"/>
<rect x="170.53" y="250.70" width="4.6" height="4.6" fill="#f58536"/>
<rect x="178.36" y="249.20" width="4.6" height="4.6" fill="#f58536"/>
<rect x="186.19" y="247.70" width="4.6" height="4.6" fill="#f58536"/>
<rect x="194.02" y="245.70" width="4.6" height="4.6" fill="#f58536"/>
<rect x="201.85" y="241.10" width="4.6" height="4.6" fill="#f58536"/>
<rect x="209.68" y="239.40" width="4.6" height="4.6" fill="#f58536"/>
<rect x="217.50" y="235.30" width="4.6" height="4.6" fill="#f58536"/>
<rect x="225.33" y="235.60" width="4.6" height="4.6" fill="#f58536"/>
<rect x="233.16" y="232.20" width="4.6" height="4.6" fill="#f58536"/>
<rect x="240.99" y="230.50" width="4.6" height="4.6" fill="#f58536"/>
<rect x="248.82" y="225.40" width="4.6" height="4.6" fill="#f58536"/>
<rect x="256.64" y="217.70" width="4.6" height="4.6" fill="#f58536"/>
<rect x="264.47" y="217.70" width="4.6" height="4.6" fill="#f58536"/>
<rect x="272.30" y="215.00" width="4.6" height="4.6" fill="#f58536"/>
<rect x="280.13" y="207.70" width="4.6" height="4.6" fill="#f58536"/>
<rect x="287.96" y="203.10" width="4.6" height="4.6" fill="#f58536"/>
<rect x="295.78" y="198.30" width="4.6" height="4.6" fill="#f58536"/>
<rect x="303.61" y="189.20" width="4.6" height="4.6" fill="#f58536"/>
<rect x="311.44" y="184.70" width="4.6" height="4.6" fill="#f58536"/>
<rect x="319.27" y="176.10" width="4.6" height="4.6" fill="#f58536"/>
<rect x="327.10" y="167.60" width="4.6" height="4.6" fill="#f58536"/>
<rect x="334.92" y="155.70" width="4.6" height="4.6" fill="#f58536"/>
<rect x="342.75" y="142.90" width="4.6" height="4.6" fill="#f58536"/>
<rect x="350.58" y="125.70" width="4.6" height="4.6" fill="#f58536"/>
<rect x="358.41" y="97.30" width="4.6" height="4.6" fill="#f58536"/>
</g>
<g clip-path="url(#cr)">
<path d="M55.41,453.98 L63.24,416.55 L71.07,473.13 L78.90,464.05 L86.73,449.11 L94.55,438.29 L102.38,444.05 L110.21,444.05 L118.04,479.60 L125.87,458.08 L133.69,451.51 L141.52,453.98 L149.35,444.80 L157.18,452.33 L165.01,450.54 L172.83,462.38 L180.66,454.82 L188.49,460.57 L196.32,468.08 L204.15,453.98 L211.98,453.15 L219.80,438.29 L227.63,460.21 L235.46,458.61 L243.29,467.88 L251.12,461.65 L258.94,448.48 L266.77,460.93 L274.60,466.33 L282.43,457.91 L290.26,457.56 L298.08,458.26 L305.91,444.50 L313.74,445.40 L321.57,442.58 L329.40,437.18 L337.22,432.75 L345.05,423.33 L352.88,405.73 L360.71,369.79" fill="none" stroke="#f58536" stroke-width="1.2" stroke-dasharray="3 1.5 1 1.5"/>
<path d="M55.41,440.06 L55.41,470.55 M53.61,440.06 L57.21,440.06 M53.61,470.55 L57.21,470.55 M63.24,405.20 L63.24,429.61 M61.44,405.20 L65.04,405.20 M61.44,429.61 L65.04,429.61 M71.07,457.84 L71.07,491.67 M69.27,457.84 L72.87,457.84 M69.27,491.67 L72.87,491.67 M78.90,449.54 L78.90,481.48 M77.10,449.54 L80.70,449.54 M77.10,481.48 L80.70,481.48 M86.73,435.75 L86.73,464.90 M84.93,435.75 L88.53,435.75 M84.93,464.90 L88.53,464.90 M94.55,425.72 L94.55,452.97 M92.75,425.72 L96.35,425.72 M92.75,452.97 L96.35,452.97 M102.38,431.14 L102.38,459.21 M100.58,431.14 L104.18,431.14 M100.58,459.21 L104.18,459.21 M110.21,431.49 L110.21,458.73 M108.41,431.49 L112.01,431.49 M108.41,458.73 L112.01,458.73 M118.04,464.84 L118.04,497.36 M116.24,464.84 L119.84,464.84 M116.24,497.36 L119.84,497.36 M125.87,445.29 L125.87,473.08 M124.07,445.29 L127.67,445.29 M124.07,473.08 L127.67,473.08 M133.69,439.52 L133.69,465.42 M131.89,439.52 L135.49,439.52 M131.89,465.42 L135.49,465.42 M141.52,442.44 L141.52,467.28 M139.72,442.44 L143.32,442.44 M139.72,467.28 L143.32,467.28 M149.35,434.40 L149.35,456.61 M147.55,434.40 L151.15,434.40 M147.55,456.61 L151.15,456.61 M157.18,442.11 L157.18,463.90 M155.38,442.11 L158.98,442.11 M155.38,463.90 L158.98,463.90 M165.01,441.04 L165.01,461.22 M163.21,441.04 L166.81,441.04 M163.21,461.22 L166.81,461.22 M172.83,452.76 L172.83,473.20 M171.03,452.76 L174.63,452.76 M171.03,473.20 L174.63,473.20 M180.66,445.95 L180.66,464.70 M178.86,445.95 L182.46,445.95 M178.86,464.70 L182.46,464.70 M188.49,451.79 L188.49,470.33 M186.69,451.79 L190.29,451.79 M186.69,470.33 L190.29,470.33 M196.32,459.33 L196.32,477.81 M194.52,459.33 L198.12,459.33 M194.52,477.81 L198.12,477.81 M204.15,446.25 L204.15,462.47 M202.35,446.25 L205.95,446.25 M202.35,462.47 L205.95,462.47 M211.98,445.82 L211.98,461.16 M210.18,445.82 L213.78,445.82 M210.18,461.16 L213.78,461.16 M219.80,431.84 L219.80,445.26 M218.00,431.84 L221.60,431.84 M218.00,445.26 L221.60,445.26 M227.63,453.22 L227.63,467.80 M225.83,453.22 L229.43,453.22 M225.83,467.80 L229.43,467.80 M235.46,451.98 L235.46,465.78 M233.66,451.98 L237.26,451.98 M233.66,465.78 L237.26,465.78 M243.29,461.22 L243.29,475.09 M241.49,461.22 L245.09,461.22 M241.49,475.09 L245.09,475.09 M251.12,455.52 L251.12,468.25 M249.32,455.52 L252.92,455.52 M249.32,468.25 L252.92,468.25 M258.94,443.07 L258.94,454.26 M257.14,443.07 L260.74,443.07 M257.14,454.26 L260.74,454.26 M266.77,455.43 L266.77,466.79 M264.97,455.43 L268.57,455.43 M264.97,466.79 L268.57,466.79 M274.60,460.98 L274.60,472.03 M272.80,460.98 L276.40,460.98 M272.80,472.03 L276.40,472.03 M282.43,453.10 L282.43,462.99 M280.63,453.10 L284.23,453.10 M280.63,462.99 L284.23,462.99 M290.26,453.12 L290.26,462.24 M288.46,453.12 L292.06,453.12 M288.46,462.24 L292.06,462.24 M298.08,454.15 L298.08,462.57 M296.28,454.15 L299.88,454.15 M296.28,462.57 L299.88,462.57 M305.91,441.03 L305.91,448.12 M304.11,441.03 L307.71,441.03 M304.11,448.12 L307.71,448.12 M313.74,442.24 L313.74,448.68 M311.94,442.24 L315.54,442.24 M311.94,448.68 L315.54,448.68 M321.57,439.79 L321.57,445.45 M319.77,439.79 L323.37,439.79 M319.77,445.45 L323.37,445.45 M329.40,434.80 L329.40,439.63 M327.60,434.80 L331.20,434.80 M327.60,439.63 L331.20,439.63 M337.22,430.74 L337.22,434.81 M335.42,430.74 L339.02,430.74 M335.42,434.81 L339.02,434.81 M345.05,421.73 L345.05,424.97 M343.25,421.73 L346.85,421.73 M343.25,424.97 L346.85,424.97 M352.88,404.55 L352.88,406.93 M351.08,404.55 L354.68,404.55 M351.08,406.93 L354.68,406.93 M360.71,368.92 L360.71,370.67 M358.91,368.92 L362.51,368.92 M358.91,370.67 L362.51,370.67" fill="none" stroke="#f58536" stroke-width="1" stroke-dasharray="3 1.5 1 1.5"/>
<rect x="53.11" y="451.68" width="4.6" height="4.6" fill="#f58536"/>
<rect x="68.77" y="470.83" width="4.6" height="4.6" fill="#f58536"/>
<rect x="76.60" y="461.75" width="4.6" height="4.6" fill="#f58536"/>
<rect x="84.43" y="446.81" width="4.6" height="4.6" fill="#f58536"/>
<rect x="92.25" y="435.99" width="4.6" height="4.6" fill="#f58536"/>
<rect x="100.08" y="441.75" width="4.6" height="4.6" fill="#f58536"/>
<rect x="107.91" y="441.75" width="4.6" height="4.6" fill="#f58536"/>
<rect x="115.74" y="477.30" width="4.6" height="4.6" fill="#f58536"/>
<rect x="123.57" y="455.78" width="4.6" height="4.6" fill="#f58536"/>
<rect x="131.39" y="449.21" width="4.6" height="4.6" fill="#f58536"/>
<rect x="139.22" y="451.68" width="4.6" height="4.6" fill="#f58536"/>
<rect x="147.05" y="442.50" width="4.6" height="4.6" fill="#f58536"/>
<rect x="154.88" y="450.03" width="4.6" height="4.6" fill="#f58536"/>
<rect x="162.71" y="448.24" width="4.6" height="4.6" fill="#f58536"/>
<rect x="170.53" y="460.08" width="4.6" height="4.6" fill="#f58536"/>
<rect x="178.36" y="452.52" width="4.6" height="4.6" fill="#f58536"/>
<rect x="186.19" y="458.27" width="4.6" height="4.6" fill="#f58536"/>
<rect x="194.02" y="465.78" width="4.6" height="4.6" fill="#f58536"/>
<rect x="201.85" y="451.68" width="4.6" height="4.6" fill="#f58536"/>
<rect x="209.68" y="450.85" width="4.6" height="4.6" fill="#f58536"/>
<rect x="217.50" y="435.99" width="4.6" height="4.6" fill="#f58536"/>
<rect x="225.33" y="457.91" width="4.6" height="4.6" fill="#f58536"/>
<rect x="233.16" y="456.31" width="4.6" height="4.6" fill="#f58536"/>
<rect x="240.99" y="465.58" width="4.6" height="4.6" fill="#f58536"/>
<rect x="248.82" y="459.35" width="4.6" height="4.6" fill="#f58536"/>
<rect x="256.64" y="446.18" width="4.6" height="4.6" fill="#f58536"/>
<rect x="264.47" y="458.63" width="4.6" height="4.6" fill="#f58536"/>
<rect x="272.30" y="464.03" width="4.6" height="4.6" fill="#f58536"/>
<rect x="280.13" y="455.61" width="4.6" height="4.6" fill="#f58536"/>
<rect x="287.96" y="455.26" width="4.6" height="4.6" fill="#f58536"/>
<rect x="295.78" y="455.96" width="4.6" height="4.6" fill="#f58536"/>
<rect x="303.61" y="442.20" width="4.6" height="4.6" fill="#f58536"/>
<rect x="311.44" y="443.10" width="4.6" height="4.6" fill="#f58536"/>
<rect x="319.27" y="440.28" width="4.6" height="4.6" fill="#f58536"/>
<rect x="327.10" y="434.88" width="4.6" height="4.6" fill="#f58536"/>
<rect x="334.92" y="430.45" width="4.6" height="4.6" fill="#f58536"/>
<rect x="342.75" y="421.03" width="4.6" height="4.6" fill="#f58536"/>
<rect x="350.58" y="403.43" width="4.6" height="4.6" fill="#f58536"/>
<rect x="358.41" y="367.49" width="4.6" height="4.6" fill="#f58536"/>
</g>
<g clip-path="url(#cm)">
<path d="M55.41,248.60 L63.24,253.70 L71.07,242.90 L78.90,253.00 L86.73,241.60 L94.55,241.30 L102.38,245.90 L110.21,250.90 L118.04,239.80 L125.87,242.40 L133.69,241.30 L141.52,237.20 L149.35,234.20 L157.18,240.80 L165.01,236.20 L172.83,236.20 L180.66,226.30 L188.49,229.40 L196.32,230.90 L204.15,226.20 L211.98,223.90 L219.80,225.40 L227.63,223.10 L235.46,217.70 L243.29,214.40 L251.12,211.30 L258.94,207.00 L266.77,202.40 L274.60,198.90 L282.43,193.60 L290.26,189.20 L298.08,184.30 L305.91,179.00 L313.74,172.20 L321.57,165.60 L329.40,158.00 L337.22,148.40 L345.05,136.60 L352.88,123.70 L360.71,104.30" fill="none" stroke="#0000e6" stroke-width="1.2"/>
<path d="M55.41,245.06 L55.41,252.74 M53.61,245.06 L57.21,245.06 M53.61,252.74 L57.21,252.74 M63.24,250.07 L63.24,257.96 M61.44,250.07 L65.04,250.07 M61.44,257.96 L65.04,257.96 M71.07,239.50 L71.07,246.85 M69.27,239.50 L72.87,239.50 M69.27,246.85 L72.87,246.85 M78.90,249.17 L78.90,257.55 M77.10,249.17 L80.70,249.17 M77.10,257.55 L80.70,257.55 M86.73,238.23 L86.73,245.51 M84.93,238.23 L88.53,238.23 M84.93,245.51 L88.53,245.51 M94.55,238.35 L94.55,244.66 M92.75,238.35 L96.35,238.35 M92.75,244.66 L96.35,244.66 M102.38,242.86 L102.38,249.37 M100.58,242.86 L104.18,242.86 M100.58,249.37 L104.18,249.37 M110.21,247.33 L110.21,255.08 M108.41,247.33 L112.01,247.33 M108.41,255.08 L112.01,255.08 M118.04,237.02 L118.04,242.94 M116.24,237.02 L119.84,237.02 M116.24,242.94 L119.84,242.94 M125.87,239.24 L125.87,246.03 M124.07,239.24 L127.67,239.24 M124.07,246.03 L127.67,246.03 M133.69,238.25 L133.69,244.79 M131.89,238.25 L135.49,238.25 M131.89,244.79 L135.49,244.79 M141.52,234.35 L141.52,240.43 M139.72,234.35 L143.32,234.35 M139.72,240.43 L143.32,240.43 M149.35,231.87 L149.35,236.78 M147.55,231.87 L151.15,231.87 M147.55,236.78 L151.15,236.78 M157.18,238.06 L157.18,243.89 M155.38,238.06 L158.98,238.06 M155.38,243.89 L158.98,243.89 M165.01,233.84 L165.01,238.81 M163.21,233.84 L166.81,233.84 M163.21,238.81 L166.81,238.81 M172.83,233.81 L172.83,238.86 M171.03,233.81 L174.63,233.81 M171.03,238.86 L174.63,238.86 M180.66,224.40 L180.66,228.36 M178.86,224.40 L182.46,224.40 M178.86,228.36 L182.46,228.36 M188.49,227.33 L188.49,231.66 M186.69,227.33 L190.29,227.33 M186.69,231.66 L190.29,231.66 M196.32,228.67 L196.32,233.36 M194.52,228.67 L198.12,228.67 M194.52,233.36 L198.12,233.36 M204.15,224.24 L204.15,228.34 M202.35,224.24 L205.95,224.24 M202.35,228.34 L205.95,228.34 M211.98,222.07 L211.98,225.88 M210.18,222.07 L213.78,222.07 M210.18,225.88 L213.78,225.88 M219.80,223.59 L219.80,227.35 M218.00,223.59 L221.60,223.59 M218.00,227.35 L221.60,227.35 M227.63,221.24 L227.63,225.11 M225.83,221.24 L229.43,221.24 M225.83,225.11 L229.43,225.11 M235.46,216.06 L235.46,219.46 M233.66,216.06 L237.26,216.06 M233.66,219.46 L237.26,219.46 M243.29,212.78 L243.29,216.14 M241.49,212.78 L245.09,212.78 M241.49,216.14 L245.09,216.14 M251.12,209.72 L251.12,212.99 M249.32,209.72 L252.92,209.72 M249.32,212.99 L252.92,212.99 M258.94,205.51 L258.94,208.59 M257.14,205.51 L260.74,205.51 M257.14,208.59 L260.74,208.59 M266.77,201.01 L266.77,203.88 M264.97,201.01 L268.57,201.01 M264.97,203.88 L268.57,203.88 M274.60,197.57 L274.60,200.31 M272.80,197.57 L276.40,197.57 M272.80,200.31 L276.40,200.31 M282.43,192.36 L282.43,194.91 M280.63,192.36 L284.23,192.36 M280.63,194.91 L284.23,194.91 M290.26,188.04 L290.26,190.42 M288.46,188.04 L292.06,188.04 M288.46,190.42 L292.06,190.42 M298.08,183.24 L298.08,185.41 M296.28,183.24 L299.88,183.24 M296.28,185.41 L299.88,185.41 M305.91,178.04 L305.91,180.00 M304.11,178.04 L307.71,178.04 M304.11,180.00 L307.71,180.00 M313.74,171.36 L313.74,173.07 M311.94,171.36 L315.54,171.36 M311.94,173.07 L315.54,173.07 M321.57,164.85 L321.57,166.37 M319.77,164.85 L323.37,164.85 M319.77,166.37 L323.37,166.37 M329.40,157.34 L329.40,158.68 M327.60,157.34 L331.20,157.34 M327.60,158.68 L331.20,158.68 M337.22,147.82 L337.22,149.00 M335.42,147.82 L339.02,147.82 M335.42,149.00 L339.02,149.00 M345.05,136.12 L345.05,137.09 M343.25,136.12 L346.85,136.12 M343.25,137.09 L346.85,137.09 M352.88,123.31 L352.88,124.10 M351.08,123.31 L354.68,123.31 M351.08,124.10 L354.68,124.10 M360.71,104.00 L360.71,104.60 M358.91,104.00 L362.51,104.00 M358.91,104.60 L362.51,104.60" fill="none" stroke="#0000e6" stroke-width="1"/>
<path d="M55.41,245.40 L58.41,251.20 L52.41,251.20 Z" fill="#0000e6"/>
<path d="M63.24,250.50 L66.24,256.30 L60.24,256.30 Z" fill="#0000e6"/>
<path d="M71.07,239.70 L74.07,245.50 L68.07,245.50 Z" fill="#0000e6"/>
<path d="M78.90,249.80 L81.90,255.60 L75.90,255.60 Z" fill="#0000e6"/>
<path d="M86.73,238.40 L89.73,244.20 L83.73,244.20 Z" fill="#0000e6"/>
<path d="M94.55,238.10 L97.55,243.90 L91.55,243.90 Z" fill="#0000e6"/>
<path d="M102.38,242.70 L105.38,248.50 L99.38,248.50 Z" fill="#0000e6"/>
<path d="M110.21,247.70 L113.21,253.50 L107.21,253.50 Z" fill="#0000e6"/>
<path d="M118.04,236.60 L121.04,242.40 L115.04,242.40 Z" fill="#0000e6"/>
<path d="M125.87,239.20 L128.87,245.00 L122.87,245.00 Z" fill="#0000e6"/>
<path d="M133.69,238.10 L136.69,243.90 L130.69,243.90 Z" fill="#0000e6"/>
<path d="M141.52,234.00 L144.52,239.80 L138.52,239.80 Z" fill="#0000e6"/>
<path d="M149.35,231.00 L152.35,236.80 L146.35,236.80 Z" fill="#0000e6"/>
<path d="M157.18,237.60 L160.18,243.40 L154.18,243.40 Z" fill="#0000e6"/>
<path d="M165.01,233.00 L168.01,238.80 L162.01,238.80 Z" fill="#0000e6"/>
<path d="M172.83,233.00 L175.83,238.80 L169.83,238.80 Z" fill="#0000e6"/>
<path d="M180.66,223.10 L183.66,228.90 L177.66,228.90 Z" fill="#0000e6"/>
<path d="M188.49,226.20 L191.49,232.00 L185.49,232.00 Z" fill="#0000e6"/>
<path d="M196.32,227.70 L199.32,233.50 L193.32,233.50 Z" fill="#0000e6"/>
<path d="M204.15,223.00 L207.15,228.80 L201.15,228.80 Z" fill="#0000e6"/>
<path d="M211.98,220.70 L214.98,226.50 L208.98,226.50 Z" fill="#0000e6"/>
<path d="M219.80,222.20 L222.80,228.00 L216.80,228.00 Z" fill="#0000e6"/>
<path d="M227.63,219.90 L230.63,225.70 L224.63,225.70 Z" fill="#0000e6"/>
<path d="M235.46,214.50 L238.46,220.30 L232.46,220.30 Z" fill="#0000e6"/>
<path d="M243.29,211.20 L246.29,217.00 L240.29,217.00 Z" fill="#0000e6"/>
<path d="M251.12,208.10 L254.12,213.90 L248.12,213.90 Z" fill="#0000e6"/>
<path d="M258.94,203.80 L261.94,209.60 L255.94,209.60 Z" fill="#0000e6"/>
<path d="M266.77,199.20 L269.77,205.00 L263.77,205.00 Z" fill="#0000e6"/>
<path d="M274.60,195.70 L277.60,201.50 L271.60,201.50 Z" fill="#0000e6"/>
<path d="M282.43,190.40 L285.43,196.20 L279.43,196.20 Z" fill="#0000e6"/>
<path d="M290.26,186.00 L293.26,191.80 L287.26,191.80 Z" fill="#0000e6"/>
<path d="M298.08,181.10 L301.08,186.90 L295.08,186.90 Z" fill="#0000e6"/>
<path d="M305.91,175.80 L308.91,181.60 L302.91,181.60 Z" fill="#0000e6"/>
<path d="M313.74,169.00 L316.74,174.80 L310.74,174.80 Z" fill="#0000e6"/>
<path d="M321.57,162.40 L324.57,168.20 L318.57,168.20 Z" fill="#0000e6"/>
<path d="M329.40,154.80 L332.40,160.60 L326.40,160.60 Z" fill="#0000e6"/>
<path d="M337.22,145.20 L340.22,151.00 L334.22,151.00 Z" fill="#0000e6"/>
<path d="M345.05,133.40 L348.05,139.20 L342.05,139.20 Z" fill="#0000e6"/>
<path d="M352.88,120.50 L355.88,126.30 L349.88,126.30 Z" fill="#0000e6"/>
<path d="M360.71,101.10 L363.71,106.90 L357.71,106.90 Z" fill="#0000e6"/>
</g>
<g clip-path="url(#cr)">
<path d="M55.41,391.17 L63.24,396.45 L71.07,384.82 L78.90,408.16 L86.73,384.82 L94.55,360.79 L102.38,366.91 L110.21,401.97 L118.04,360.79 L125.87,389.80 L133.69,388.92 L141.52,386.19 L149.35,359.03 L157.18,399.43 L165.01,383.62 L172.83,395.93 L180.66,360.79 L188.49,384.52 L196.32,406.50 L204.15,391.49 L211.98,387.51 L219.80,393.64 L227.63,405.92 L235.46,391.82 L243.29,398.01 L251.12,402.43 L258.94,400.60 L266.77,397.93 L274.60,400.06 L282.43,398.99 L290.26,400.06 L298.08,398.99 L305.91,397.40 L313.74,391.82 L321.57,390.52 L329.40,391.82 L337.22,394.06 L345.05,391.82 L352.88,390.52 L360.71,386.73" fill="none" stroke="#0000e6" stroke-width="1.2"/>
<path d="M55.41,378.45 L55.41,406.06 M53.61,378.45 L57.21,378.45 M53.61,406.06 L57.21,406.06 M63.24,383.42 L63.24,411.77 M61.44,383.42 L65.04,383.42 M61.44,411.77 L65.04,411.77 M71.07,372.62 L71.07,399.01 M69.27,372.62 L72.87,372.62 M69.27,399.01 L72.87,399.01 M78.90,394.40 L78.90,424.51 M77.10,394.40 L80.70,394.40 M77.10,424.51 L80.70,424.51 M86.73,372.71 L86.73,398.88 M84.93,372.71 L88.53,372.71 M84.93,398.88 L88.53,398.88 M94.55,350.19 L94.55,372.86 M92.75,350.19 L96.35,350.19 M92.75,372.86 L96.35,372.86 M102.38,356.00 L102.38,379.39 M100.58,356.00 L104.18,356.00 M100.58,379.39 L104.18,379.39 M110.21,389.15 L110.21,417.00 M108.41,389.15 L112.01,389.15 M108.41,417.00 L112.01,417.00 M118.04,350.80 L118.04,372.07 M116.24,350.80 L119.84,350.80 M116.24,372.07 L119.84,372.07 M125.87,378.45 L125.87,402.84 M124.07,378.45 L127.67,378.45 M124.07,402.84 L127.67,402.84 M133.69,377.96 L133.69,401.45 M131.89,377.96 L135.49,377.96 M131.89,401.45 L135.49,401.45 M141.52,375.94 L141.52,397.81 M139.72,375.94 L143.32,375.94 M139.72,397.81 L143.32,397.81 M149.35,350.66 L149.35,368.29 M147.55,350.66 L151.15,350.66 M147.55,368.29 L151.15,368.29 M157.18,389.60 L157.18,410.52 M155.38,389.60 L158.98,389.60 M155.38,410.52 L158.98,410.52 M165.01,375.14 L165.01,393.01 M163.21,375.14 L166.81,375.14 M163.21,393.01 L166.81,393.01 M172.83,387.33 L172.83,405.47 M171.03,387.33 L174.63,387.33 M171.03,405.47 L174.63,405.47 M180.66,353.98 L180.66,368.18 M178.86,353.98 L182.46,353.98 M178.86,368.18 L182.46,368.18 M188.49,377.08 L188.49,392.65 M186.69,377.08 L190.29,377.08 M186.69,392.65 L190.29,392.65 M196.32,398.47 L196.32,415.34 M194.52,398.47 L198.12,398.47 M194.52,415.34 L198.12,415.34 M204.15,384.44 L204.15,399.17 M202.35,384.44 L205.95,384.44 M202.35,399.17 L205.95,399.17 M211.98,380.93 L211.98,394.62 M210.18,380.93 L213.78,380.93 M210.18,394.62 L213.78,394.62 M219.80,387.15 L219.80,400.66 M218.00,387.15 L221.60,387.15 M218.00,400.66 L221.60,400.66 M227.63,399.26 L227.63,413.14 M225.83,399.26 L229.43,399.26 M225.83,413.14 L229.43,413.14 M235.46,385.92 L235.46,398.15 M233.66,385.92 L237.26,385.92 M233.66,398.15 L237.26,398.15 M243.29,392.18 L243.29,404.26 M241.49,392.18 L245.09,392.18 M241.49,404.26 L245.09,404.26 M251.12,396.74 L251.12,408.52 M249.32,396.74 L252.92,396.74 M249.32,408.52 L252.92,408.52 M258.94,395.25 L258.94,406.30 M257.14,395.25 L260.74,395.25 M257.14,406.30 L260.74,406.30 M266.77,392.93 L266.77,403.23 M264.97,392.93 L268.57,392.93 M264.97,403.23 L268.57,403.23 M274.60,395.28 L274.60,405.11 M272.80,395.28 L276.40,395.28 M272.80,405.11 L276.40,405.11 M282.43,394.52 L282.43,403.69 M280.63,394.52 L284.23,394.52 M280.63,403.69 L284.23,403.69 M290.26,395.90 L290.26,404.43 M288.46,395.90 L292.06,395.90 M288.46,404.43 L292.06,404.43 M298.08,395.18 L298.08,402.97 M296.28,395.18 L299.88,395.18 M296.28,402.97 L299.88,402.97 M305.91,393.95 L305.91,400.99 M304.11,393.95 L307.71,393.95 M304.11,400.99 L307.71,400.99 M313.74,388.80 L313.74,394.95 M311.94,388.80 L315.54,388.80 M311.94,394.95 L315.54,394.95 M321.57,387.83 L321.57,393.29 M319.77,387.83 L323.37,387.83 M319.77,393.29 L323.37,393.29 M329.40,389.44 L329.40,394.27 M327.60,389.44 L331.20,389.44 M327.60,394.27 L331.20,394.27 M337.22,391.97 L337.22,396.20 M335.42,391.97 L339.02,391.97 M335.42,396.20 L339.02,396.20 M345.05,390.08 L345.05,393.60 M343.25,390.08 L346.85,390.08 M343.25,393.60 L346.85,393.60 M352.88,389.11 L352.88,391.95 M351.08,389.11 L354.68,389.11 M351.08,391.95 L354.68,391.95 M360.71,385.67 L360.71,387.81 M358.91,385.67 L362.51,385.67 M358.91,387.81 L362.51,387.81" fill="none" stroke="#0000e6" stroke-width="1"/>
<path d="M55.41,387.97 L58.41,393.77 L52.41,393.77 Z" fill="#0000e6"/>
<path d="M63.24,393.25 L66.24,399.05 L60.24,399.05 Z" fill="#0000e6"/>
<path d="M71.07,381.62 L74.07,387.42 L68.07,387.42 Z" fill="#0000e6"/>
<path d="M78.90,404.96 L81.90,410.76 L75.90,410.76 Z" fill="#0000e6"/>
<path d="M86.73,381.62 L89.73,387.42 L83.73,387.42 Z" fill="#0000e6"/>
<path d="M94.55,357.59 L97.55,363.39 L91.55,363.39 Z" fill="#0000e6"/>
<path d="M102.38,363.71 L105.38,369.51 L99.38,369.51 Z" fill="#0000e6"/>
<path d="M110.21,398.77 L113.21,404.57 L107.21,404.57 Z" fill="#0000e6"/>
<path d="M118.04,357.59 L121.04,363.39 L115.04,363.39 Z" fill="#0000e6"/>
<path d="M125.87,386.60 L128.87,392.40 L122.87,392.40 Z" fill="#0000e6"/>
<path d="M133.69,385.72 L136.69,391.52 L130.69,391.52 Z" fill="#0000e6"/>
<path d="M141.52,382.99 L144.52,388.79 L138.52,388.79 Z" fill="#0000e6"/>
<path d="M149.35,355.83 L152.35,361.63 L146.35,361.63 Z" fill="#0000e6"/>
<path d="M157.18,396.23 L160.18,402.03 L154.18,402.03 Z" fill="#0000e6"/>
<path d="M165.01,380.42 L168.01,386.22 L162.01,386.22 Z" fill="#0000e6"/>
<path d="M172.83,392.73 L175.83,398.53 L169.83,398.53 Z" fill="#0000e6"/>
<path d="M180.66,357.59 L183.66,363.39 L177.66,363.39 Z" fill="#0000e6"/>
<path d="M188.49,381.32 L191.49,387.12 L185.49,387.12 Z" fill="#0000e6"/>
<path d="M196.32,403.30 L199.32,409.10 L193.32,409.10 Z" fill="#0000e6"/>
<path d="M204.15,388.29 L207.15,394.09 L201.15,394.09 Z" fill="#0000e6"/>
<path d="M211.98,384.31 L214.98,390.11 L208.98,390.11 Z" fill="#0000e6"/>
<path d="M219.80,390.44 L222.80,396.24 L216.80,396.24 Z" fill="#0000e6"/>
<path d="M227.63,402.72 L230.63,408.52 L224.63,408.52 Z" fill="#0000e6"/>
<path d="M235.46,388.62 L238.46,394.42 L232.46,394.42 Z" fill="#0000e6"/>
<path d="M243.29,394.81 L246.29,400.61 L240.29,400.61 Z" fill="#0000e6"/>
<path d="M251.12,399.23 L254.12,405.03 L248.12,405.03 Z" fill="#0000e6"/>
<path d="M258.94,397.40 L261.94,403.20 L255.94,403.20 Z" fill="#0000e6"/>
<path d="M266.77,394.73 L269.77,400.53 L263.77,400.53 Z" fill="#0000e6"/>
<path d="M274.60,396.86 L277.60,402.66 L271.60,402.66 Z" fill="#0000e6"/>
<path d="M282.43,395.79 L285.43,401.59 L279.43,401.59 Z" fill="#0000e6"/>
<path d="M290.26,396.86 L293.26,402.66 L287.26,402.66 Z" fill="#0000e6"/>
<path d="M298.08,395.79 L301.08,401.59 L295.08,401.59 Z" fill="#0000e6"/>
<path d="M305.91,394.20 L308.91,400.00 L302.91,400.00 Z" fill="#0000e6"/>
<path d="M313.74,388.62 L316.74,394.42 L310.74,394.42 Z" fill="#0000e6"/>
<path d="M321.57,387.32 L324.57,393.12 L318.57,393.12 Z" fill="#0000e6"/>
<path d="M329.40,388.62 L332.40,394.42 L326.40,394.42 Z" fill="#0000e6"/>
<path d="M337.22,390.86 L340.22,396.66 L334.22,396.66 Z" fill="#0000e6"/>
<path d="M345.05,388.62 L348.05,394.42 L342.05,394.42 Z" fill="#0000e6"/>
<path d="M352.88,387.32 L355.88,393.12 L349.88,393.12 Z" fill="#0000e6"/>
<path d="M360.71,383.53 L363.71,389.33 L357.71,389.33 Z" fill="#0000e6"/>
</g>
<rect x="45.5" y="17.6" width="325.60" height="299.80" fill="none" stroke="#000" stroke-width="1.4"/>
<rect x="45.5" y="317.4" width="325.60" height="160.20" fill="none" stroke="#000" stroke-width="1.6"/>
<line x1="44.7" y1="477.6" x2="371.90000000000003" y2="477.6" stroke="#000" stroke-width="1.9"/>
<path d="M45.5,311.56 h5.5 M371.1,311.56 h-5.5 M45.5,306.14 h5.5 M371.1,306.14 h-5.5 M45.5,301.71 h5.5 M371.1,301.71 h-5.5 M45.5,297.97 h5.5 M371.1,297.97 h-5.5 M45.5,294.72 h5.5 M371.1,294.72 h-5.5 M45.5,291.86 h5.5 M371.1,291.86 h-5.5 M45.5,289.30 h11 M371.1,289.30 h-11 M45.5,272.46 h5.5 M371.1,272.46 h-5.5 M45.5,262.61 h5.5 M371.1,262.61 h-5.5 M45.5,255.61 h5.5 M371.1,255.61 h-5.5 M45.5,250.19 h5.5 M371.1,250.19 h-5.5 M45.5,245.76 h5.5 M371.1,245.76 h-5.5 M45.5,242.02 h5.5 M371.1,242.02 h-5.5 M45.5,238.77 h5.5 M371.1,238.77 h-5.5 M45.5,235.91 h5.5 M371.1,235.91 h-5.5 M45.5,233.35 h11 M371.1,233.35 h-11 M45.5,216.51 h5.5 M371.1,216.51 h-5.5 M45.5,206.66 h5.5 M371.1,206.66 h-5.5 M45.5,199.66 h5.5 M371.1,199.66 h-5.5 M45.5,194.24 h5.5 M371.1,194.24 h-5.5 M45.5,189.81 h5.5 M371.1,189.81 h-5.5 M45.5,186.07 h5.5 M371.1,186.07 h-5.5 M45.5,182.82 h5.5 M371.1,182.82 h-5.5 M45.5,179.96 h5.5 M371.1,179.96 h-5.5 M45.5,177.40 h11 M371.1,177.40 h-11 M45.5,160.56 h5.5 M371.1,160.56 h-5.5 M45.5,150.71 h5.5 M371.1,150.71 h-5.5 M45.5,143.71 h5.5 M371.1,143.71 h-5.5 M45.5,138.29 h5.5 M371.1,138.29 h-5.5 M45.5,133.86 h5.5 M371.1,133.86 h-5.5 M45.5,130.12 h5.5 M371.1,130.12 h-5.5 M45.5,126.87 h5.5 M371.1,126.87 h-5.5 M45.5,124.01 h5.5 M371.1,124.01 h-5.5 M45.5,121.45 h11 M371.1,121.45 h-11 M45.5,104.61 h5.5 M371.1,104.61 h-5.5 M45.5,94.76 h5.5 M371.1,94.76 h-5.5 M45.5,87.76 h5.5 M371.1,87.76 h-5.5 M45.5,82.34 h5.5 M371.1,82.34 h-5.5 M45.5,77.91 h5.5 M371.1,77.91 h-5.5 M45.5,74.17 h5.5 M371.1,74.17 h-5.5 M45.5,70.92 h5.5 M371.1,70.92 h-5.5 M45.5,68.06 h5.5 M371.1,68.06 h-5.5 M45.5,65.50 h11 M371.1,65.50 h-11 M45.5,48.66 h5.5 M371.1,48.66 h-5.5 M45.5,38.81 h5.5 M371.1,38.81 h-5.5 M45.5,31.81 h5.5 M371.1,31.81 h-5.5 M45.5,26.39 h5.5 M371.1,26.39 h-5.5 M45.5,21.96 h5.5 M371.1,21.96 h-5.5 M45.5,18.22 h5.5 M371.1,18.22 h-5.5 M45.5,477.39 h5 M371.1,477.39 h-5 M45.5,457.91 h8 M371.1,457.91 h-8 M45.5,441.99 h5 M371.1,441.99 h-5 M45.5,428.54 h5 M371.1,428.54 h-5 M45.5,416.88 h5 M371.1,416.88 h-5 M45.5,406.60 h5 M371.1,406.60 h-5 M45.5,397.40 h8 M371.1,397.40 h-8 M45.5,389.08 h5 M371.1,389.08 h-5 M45.5,381.48 h5 M371.1,381.48 h-5 M45.5,374.50 h5 M371.1,374.50 h-5 M45.5,368.03 h5 M371.1,368.03 h-5 M45.5,362.01 h6.5 M371.1,362.01 h-6.5 M45.5,356.37 h5 M371.1,356.37 h-5 M45.5,351.08 h5 M371.1,351.08 h-5 M45.5,346.09 h5 M371.1,346.09 h-5 M45.5,341.37 h5 M371.1,341.37 h-5 M45.5,336.89 h8 M371.1,336.89 h-8 M45.5,332.63 h5 M371.1,332.63 h-5 M45.5,328.57 h5 M371.1,328.57 h-5 M45.5,324.69 h5 M371.1,324.69 h-5 M45.5,320.98 h5 M371.1,320.98 h-5 M45.5,317.41 h5 M371.1,317.41 h-5 M51.50,17.6 v8.5 M51.50,317.4 v-8.5 M51.50,317.4 v5 M51.50,477.6 v-5 M61.47,17.6 v2.6 M61.47,317.4 v-2.6 M61.47,317.4 v1.5 M61.47,477.6 v-1.5 M71.43,17.6 v4.3 M71.43,317.4 v-4.3 M71.43,317.4 v2.5 M71.43,477.6 v-2.5 M81.40,17.6 v2.6 M81.40,317.4 v-2.6 M81.40,317.4 v1.5 M81.40,477.6 v-1.5 M91.37,17.6 v4.3 M91.37,317.4 v-4.3 M91.37,317.4 v2.5 M91.37,477.6 v-2.5 M101.34,17.6 v2.6 M101.34,317.4 v-2.6 M101.34,317.4 v1.5 M101.34,477.6 v-1.5 M111.30,17.6 v4.3 M111.30,317.4 v-4.3 M111.30,317.4 v2.5 M111.30,477.6 v-2.5 M121.27,17.6 v2.6 M121.27,317.4 v-2.6 M121.27,317.4 v1.5 M121.27,477.6 v-1.5 M131.24,17.6 v4.3 M131.24,317.4 v-4.3 M131.24,317.4 v2.5 M131.24,477.6 v-2.5 M141.20,17.6 v2.6 M141.20,317.4 v-2.6 M141.20,317.4 v1.5 M141.20,477.6 v-1.5 M151.17,17.6 v8.5 M151.17,317.4 v-8.5 M151.17,317.4 v5 M151.17,477.6 v-5 M161.14,17.6 v2.6 M161.14,317.4 v-2.6 M161.14,317.4 v1.5 M161.14,477.6 v-1.5 M171.10,17.6 v4.3 M171.10,317.4 v-4.3 M171.10,317.4 v2.5 M171.10,477.6 v-2.5 M181.07,17.6 v2.6 M181.07,317.4 v-2.6 M181.07,317.4 v1.5 M181.07,477.6 v-1.5 M191.04,17.6 v4.3 M191.04,317.4 v-4.3 M191.04,317.4 v2.5 M191.04,477.6 v-2.5 M201.00,17.6 v2.6 M201.00,317.4 v-2.6 M201.00,317.4 v1.5 M201.00,477.6 v-1.5 M210.97,17.6 v4.3 M210.97,317.4 v-4.3 M210.97,317.4 v2.5 M210.97,477.6 v-2.5 M220.94,17.6 v2.6 M220.94,317.4 v-2.6 M220.94,317.4 v1.5 M220.94,477.6 v-1.5 M230.91,17.6 v4.3 M230.91,317.4 v-4.3 M230.91,317.4 v2.5 M230.91,477.6 v-2.5 M240.87,17.6 v2.6 M240.87,317.4 v-2.6 M240.87,317.4 v1.5 M240.87,477.6 v-1.5 M250.84,17.6 v8.5 M250.84,317.4 v-8.5 M250.84,317.4 v5 M250.84,477.6 v-5 M260.81,17.6 v2.6 M260.81,317.4 v-2.6 M260.81,317.4 v1.5 M260.81,477.6 v-1.5 M270.77,17.6 v4.3 M270.77,317.4 v-4.3 M270.77,317.4 v2.5 M270.77,477.6 v-2.5 M280.74,17.6 v2.6 M280.74,317.4 v-2.6 M280.74,317.4 v1.5 M280.74,477.6 v-1.5 M290.71,17.6 v4.3 M290.71,317.4 v-4.3 M290.71,317.4 v2.5 M290.71,477.6 v-2.5 M300.68,17.6 v2.6 M300.68,317.4 v-2.6 M300.68,317.4 v1.5 M300.68,477.6 v-1.5 M310.64,17.6 v4.3 M310.64,317.4 v-4.3 M310.64,317.4 v2.5 M310.64,477.6 v-2.5 M320.61,17.6 v2.6 M320.61,317.4 v-2.6 M320.61,317.4 v1.5 M320.61,477.6 v-1.5 M330.58,17.6 v4.3 M330.58,317.4 v-4.3 M330.58,317.4 v2.5 M330.58,477.6 v-2.5 M340.54,17.6 v2.6 M340.54,317.4 v-2.6 M340.54,317.4 v1.5 M340.54,477.6 v-1.5 M350.51,17.6 v8.5 M350.51,317.4 v-8.5 M350.51,317.4 v5 M350.51,477.6 v-5 M360.48,17.6 v2.6 M360.48,317.4 v-2.6 M360.48,317.4 v1.5 M360.48,477.6 v-1.5 M370.44,17.6 v4.3 M370.44,317.4 v-4.3 M370.44,317.4 v2.5 M370.44,477.6 v-2.5" fill="none" stroke="#000" stroke-width="1"/>
<text x="51.1" y="13.8" font-size="12.35" textLength="87.8" lengthAdjust="spacingAndGlyphs">1960 GeV ppbar</text>
<text x="272.6" y="13.8" font-size="12.35" textLength="95.0" lengthAdjust="spacingAndGlyphs">Top (parton level)</text>
<text x="162.2" y="43.1" font-size="10.4" textLength="92.8" lengthAdjust="spacingAndGlyphs">Δϕ (ttbar) (Mtt &lt; 450)</text>
<line x1="63.9" y1="61.80" x2="87.6" y2="61.80" stroke="#c4405c" stroke-width="1.2" stroke-dasharray="2.2 1.8"/>
<circle cx="76.50" cy="61.80" r="2.45" fill="none" stroke="#c4405c" stroke-width="1.15"/>
<text x="94.5" y="64.7" font-size="10.2" textLength="71.0" lengthAdjust="spacingAndGlyphs">Pythia 6.428 345</text>
<line x1="63.9" y1="75.00" x2="87.6" y2="75.00" stroke="#b89650" stroke-width="1.2" stroke-dasharray="1 1.3"/>
<rect x="73.80" y="72.30" width="5.5" height="5.5" fill="none" stroke="#b89650" stroke-width="1.35"/>
<text x="94.5" y="77.9" font-size="10.2" textLength="71.0" lengthAdjust="spacingAndGlyphs">Pythia 6.428 346</text>
<line x1="63.9" y1="88.20" x2="87.6" y2="88.20" stroke="#a8182c" stroke-width="1.2"/>
<path d="M76.50,85.20 L79.50,90.90 L73.50,90.90 Z" fill="none" stroke="#a8182c" stroke-width="1.25"/>
<text x="94.5" y="91.1" font-size="10.2" textLength="71.0" lengthAdjust="spacingAndGlyphs">Pythia 6.428 370</text>
<line x1="63.9" y1="101.20" x2="87.6" y2="101.20" stroke="#f58536" stroke-width="1.2" stroke-dasharray="3 1.5 1 1.5"/>
<rect x="74.20" y="98.90" width="4.6" height="4.6" fill="#f58536"/>
<text x="94.5" y="104.1" font-size="10.2" textLength="82.9" lengthAdjust="spacingAndGlyphs">Pythia 6.428 default</text>
<line x1="63.9" y1="114.40" x2="87.6" y2="114.40" stroke="#0000e6" stroke-width="1.2"/>
<path d="M76.50,111.20 L79.50,117.00 L73.50,117.00 Z" fill="#0000e6"/>
<text x="94.5" y="117.3" font-size="10.2" textLength="82.9" lengthAdjust="spacingAndGlyphs">Pythia 8.315 default</text>
<text x="24.0" y="70.8" font-size="10.6">10</text><text x="34.9" y="65.7" font-size="7">2</text>
<text x="40.3" y="126.1" font-size="10.6" text-anchor="end" letter-spacing="0.4">10</text>
<text x="39.8" y="182.1" font-size="10.6" text-anchor="end">1</text>
<text x="21.9" y="238.8" font-size="10.6">10</text><text x="33.0" y="233.8" font-size="7">−1</text>
<text x="19.9" y="294.8" font-size="10.6">10</text><text x="31.1" y="289.8" font-size="7">−2</text>
<text x="174.4" y="301.6" font-size="8.6" style="fill:#8c8c8c" textLength="67.4" lengthAdjust="spacingAndGlyphs">(MC_FBA_TTBAR)</text>
<text x="38.4" y="341" font-size="11" text-anchor="end">2</text>
<text x="39.2" y="402.2" font-size="11" text-anchor="end">1</text>
<text x="38.6" y="462.2" font-size="11.3" text-anchor="end">0.5</text>
<text x="374.5" y="341" font-size="11">2</text>
<text x="374.5" y="403" font-size="11">1</text>
<text x="374.5" y="462" font-size="11">0.5</text>
<text transform="translate(17.3,446.4) rotate(-90)" font-size="9.8" textLength="101.0" lengthAdjust="spacingAndGlyphs">Ratio to Pythia 6.428 345</text>
<text x="51.50" y="489.3" font-size="11" text-anchor="middle">0</text>
<text x="152.47" y="489.3" font-size="11" text-anchor="middle">1</text>
<text x="250.84" y="489.3" font-size="11" text-anchor="middle">2</text>
<text x="350.51" y="489.3" font-size="11" text-anchor="middle">3</text>
<text transform="translate(380.4,127.2) rotate(-90)" font-size="10" style="fill:#808080" textLength="109.1" lengthAdjust="spacingAndGlyphs">Rivet 4.1.0, ≥ 100k events</text>
<text transform="translate(381.2,313.4) rotate(-90)" font-size="9.6" style="fill:#808080" textLength="146.8" lengthAdjust="spacingAndGlyphs">mcplots.cern.ch [arXiv:2401.10621]</text>
</svg></body></html>
